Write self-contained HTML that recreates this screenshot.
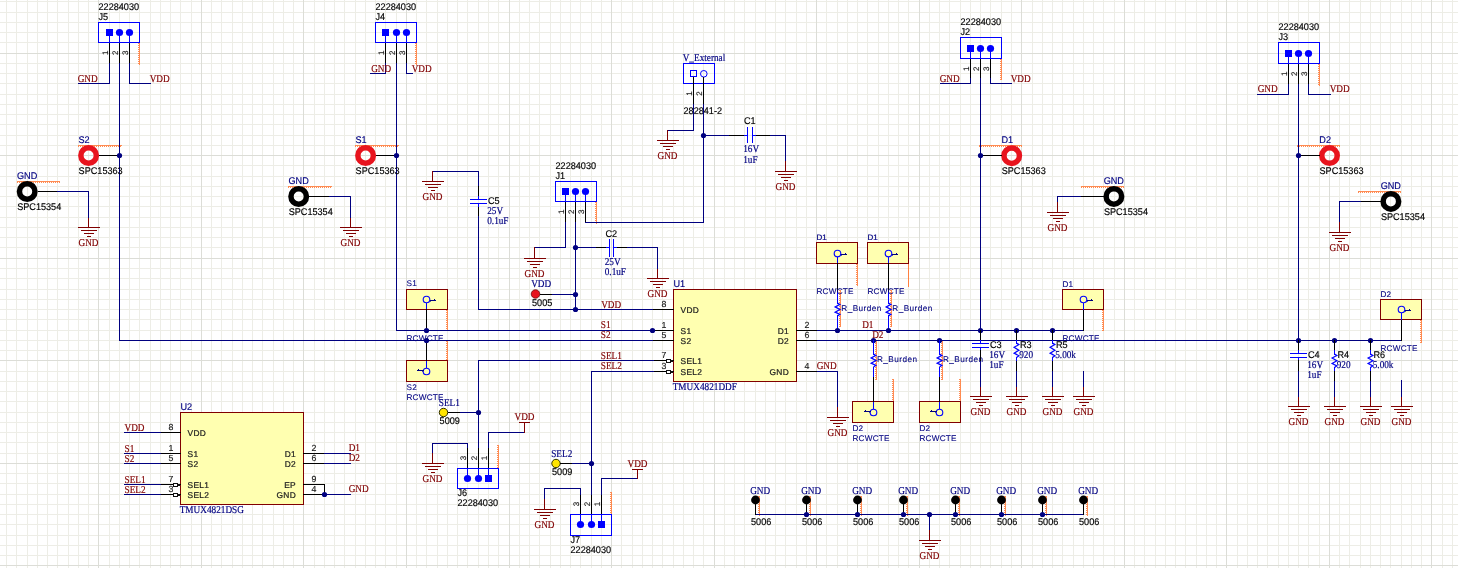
<!DOCTYPE html>
<html><head><meta charset="utf-8"><style>
html,body{margin:0;padding:0;background:#fff;overflow:hidden}
svg{display:block;will-change:transform}
text{stroke-width:0.22px;text-rendering:geometricPrecision}
.s9{font-family:"Liberation Sans",sans-serif;font-size:9.7px;stroke-width:0.16px}
.s8{font-family:"Liberation Sans",sans-serif;font-size:8px}
.p8{font-family:"Liberation Sans",sans-serif;font-size:8.4px;letter-spacing:0.3px}
.pn{font-family:"Liberation Sans",sans-serif;font-size:8.8px;stroke-width:0.15px}
.n7{font-family:"Liberation Sans",sans-serif;font-size:8px;stroke-width:0.15px}
.r9{font-family:"Liberation Serif",serif;font-size:10.5px;stroke-width:0.18px}
.rb{font-family:"Liberation Sans",sans-serif;font-size:8.2px;letter-spacing:0.2px;stroke-width:0.1px}
.rr{font-family:"Liberation Sans",sans-serif;font-size:8.2px;letter-spacing:0.45px;stroke-width:0.1px}
line,polyline,rect{shape-rendering:crispEdges}
</style></head><body>
<svg width="1458" height="568" viewBox="0 0 1458 568">
<rect x="0" y="0" width="1458" height="568" fill="#ffffff"/>
<line x1="6.5" y1="0" x2="6.5" y2="568" stroke="#ededE6"/>
<line x1="16.5" y1="0" x2="16.5" y2="568" stroke="#ededE6"/>
<line x1="27.5" y1="0" x2="27.5" y2="568" stroke="#ededE6"/>
<line x1="37.5" y1="0" x2="37.5" y2="568" stroke="#ededE6"/>
<line x1="47.5" y1="0" x2="47.5" y2="568" stroke="#ededE6"/>
<line x1="57.5" y1="0" x2="57.5" y2="568" stroke="#ededE6"/>
<line x1="68.5" y1="0" x2="68.5" y2="568" stroke="#ededE6"/>
<line x1="78.5" y1="0" x2="78.5" y2="568" stroke="#ededE6"/>
<line x1="88.5" y1="0" x2="88.5" y2="568" stroke="#ededE6"/>
<line x1="109.5" y1="0" x2="109.5" y2="568" stroke="#ededE6"/>
<line x1="119.5" y1="0" x2="119.5" y2="568" stroke="#ededE6"/>
<line x1="129.5" y1="0" x2="129.5" y2="568" stroke="#ededE6"/>
<line x1="139.5" y1="0" x2="139.5" y2="568" stroke="#ededE6"/>
<line x1="150.5" y1="0" x2="150.5" y2="568" stroke="#ededE6"/>
<line x1="160.5" y1="0" x2="160.5" y2="568" stroke="#ededE6"/>
<line x1="170.5" y1="0" x2="170.5" y2="568" stroke="#ededE6"/>
<line x1="180.5" y1="0" x2="180.5" y2="568" stroke="#ededE6"/>
<line x1="191.5" y1="0" x2="191.5" y2="568" stroke="#ededE6"/>
<line x1="211.5" y1="0" x2="211.5" y2="568" stroke="#ededE6"/>
<line x1="221.5" y1="0" x2="221.5" y2="568" stroke="#ededE6"/>
<line x1="232.5" y1="0" x2="232.5" y2="568" stroke="#ededE6"/>
<line x1="242.5" y1="0" x2="242.5" y2="568" stroke="#ededE6"/>
<line x1="252.5" y1="0" x2="252.5" y2="568" stroke="#ededE6"/>
<line x1="262.5" y1="0" x2="262.5" y2="568" stroke="#ededE6"/>
<line x1="273.5" y1="0" x2="273.5" y2="568" stroke="#ededE6"/>
<line x1="283.5" y1="0" x2="283.5" y2="568" stroke="#ededE6"/>
<line x1="293.5" y1="0" x2="293.5" y2="568" stroke="#ededE6"/>
<line x1="314.5" y1="0" x2="314.5" y2="568" stroke="#ededE6"/>
<line x1="324.5" y1="0" x2="324.5" y2="568" stroke="#ededE6"/>
<line x1="334.5" y1="0" x2="334.5" y2="568" stroke="#ededE6"/>
<line x1="344.5" y1="0" x2="344.5" y2="568" stroke="#ededE6"/>
<line x1="355.5" y1="0" x2="355.5" y2="568" stroke="#ededE6"/>
<line x1="365.5" y1="0" x2="365.5" y2="568" stroke="#ededE6"/>
<line x1="375.5" y1="0" x2="375.5" y2="568" stroke="#ededE6"/>
<line x1="385.5" y1="0" x2="385.5" y2="568" stroke="#ededE6"/>
<line x1="396.5" y1="0" x2="396.5" y2="568" stroke="#ededE6"/>
<line x1="416.5" y1="0" x2="416.5" y2="568" stroke="#ededE6"/>
<line x1="426.5" y1="0" x2="426.5" y2="568" stroke="#ededE6"/>
<line x1="437.5" y1="0" x2="437.5" y2="568" stroke="#ededE6"/>
<line x1="447.5" y1="0" x2="447.5" y2="568" stroke="#ededE6"/>
<line x1="457.5" y1="0" x2="457.5" y2="568" stroke="#ededE6"/>
<line x1="467.5" y1="0" x2="467.5" y2="568" stroke="#ededE6"/>
<line x1="478.5" y1="0" x2="478.5" y2="568" stroke="#ededE6"/>
<line x1="488.5" y1="0" x2="488.5" y2="568" stroke="#ededE6"/>
<line x1="498.5" y1="0" x2="498.5" y2="568" stroke="#ededE6"/>
<line x1="519.5" y1="0" x2="519.5" y2="568" stroke="#ededE6"/>
<line x1="529.5" y1="0" x2="529.5" y2="568" stroke="#ededE6"/>
<line x1="539.5" y1="0" x2="539.5" y2="568" stroke="#ededE6"/>
<line x1="550.5" y1="0" x2="550.5" y2="568" stroke="#ededE6"/>
<line x1="560.5" y1="0" x2="560.5" y2="568" stroke="#ededE6"/>
<line x1="570.5" y1="0" x2="570.5" y2="568" stroke="#ededE6"/>
<line x1="580.5" y1="0" x2="580.5" y2="568" stroke="#ededE6"/>
<line x1="591.5" y1="0" x2="591.5" y2="568" stroke="#ededE6"/>
<line x1="601.5" y1="0" x2="601.5" y2="568" stroke="#ededE6"/>
<line x1="621.5" y1="0" x2="621.5" y2="568" stroke="#ededE6"/>
<line x1="632.5" y1="0" x2="632.5" y2="568" stroke="#ededE6"/>
<line x1="642.5" y1="0" x2="642.5" y2="568" stroke="#ededE6"/>
<line x1="652.5" y1="0" x2="652.5" y2="568" stroke="#ededE6"/>
<line x1="662.5" y1="0" x2="662.5" y2="568" stroke="#ededE6"/>
<line x1="673.5" y1="0" x2="673.5" y2="568" stroke="#ededE6"/>
<line x1="683.5" y1="0" x2="683.5" y2="568" stroke="#ededE6"/>
<line x1="693.5" y1="0" x2="693.5" y2="568" stroke="#ededE6"/>
<line x1="703.5" y1="0" x2="703.5" y2="568" stroke="#ededE6"/>
<line x1="724.5" y1="0" x2="724.5" y2="568" stroke="#ededE6"/>
<line x1="734.5" y1="0" x2="734.5" y2="568" stroke="#ededE6"/>
<line x1="744.5" y1="0" x2="744.5" y2="568" stroke="#ededE6"/>
<line x1="755.5" y1="0" x2="755.5" y2="568" stroke="#ededE6"/>
<line x1="765.5" y1="0" x2="765.5" y2="568" stroke="#ededE6"/>
<line x1="775.5" y1="0" x2="775.5" y2="568" stroke="#ededE6"/>
<line x1="785.5" y1="0" x2="785.5" y2="568" stroke="#ededE6"/>
<line x1="796.5" y1="0" x2="796.5" y2="568" stroke="#ededE6"/>
<line x1="806.5" y1="0" x2="806.5" y2="568" stroke="#ededE6"/>
<line x1="826.5" y1="0" x2="826.5" y2="568" stroke="#ededE6"/>
<line x1="837.5" y1="0" x2="837.5" y2="568" stroke="#ededE6"/>
<line x1="847.5" y1="0" x2="847.5" y2="568" stroke="#ededE6"/>
<line x1="857.5" y1="0" x2="857.5" y2="568" stroke="#ededE6"/>
<line x1="867.5" y1="0" x2="867.5" y2="568" stroke="#ededE6"/>
<line x1="878.5" y1="0" x2="878.5" y2="568" stroke="#ededE6"/>
<line x1="888.5" y1="0" x2="888.5" y2="568" stroke="#ededE6"/>
<line x1="898.5" y1="0" x2="898.5" y2="568" stroke="#ededE6"/>
<line x1="908.5" y1="0" x2="908.5" y2="568" stroke="#ededE6"/>
<line x1="929.5" y1="0" x2="929.5" y2="568" stroke="#ededE6"/>
<line x1="939.5" y1="0" x2="939.5" y2="568" stroke="#ededE6"/>
<line x1="949.5" y1="0" x2="949.5" y2="568" stroke="#ededE6"/>
<line x1="960.5" y1="0" x2="960.5" y2="568" stroke="#ededE6"/>
<line x1="970.5" y1="0" x2="970.5" y2="568" stroke="#ededE6"/>
<line x1="980.5" y1="0" x2="980.5" y2="568" stroke="#ededE6"/>
<line x1="990.5" y1="0" x2="990.5" y2="568" stroke="#ededE6"/>
<line x1="1001.5" y1="0" x2="1001.5" y2="568" stroke="#ededE6"/>
<line x1="1011.5" y1="0" x2="1011.5" y2="568" stroke="#ededE6"/>
<line x1="1032.5" y1="0" x2="1032.5" y2="568" stroke="#ededE6"/>
<line x1="1042.5" y1="0" x2="1042.5" y2="568" stroke="#ededE6"/>
<line x1="1052.5" y1="0" x2="1052.5" y2="568" stroke="#ededE6"/>
<line x1="1062.5" y1="0" x2="1062.5" y2="568" stroke="#ededE6"/>
<line x1="1073.5" y1="0" x2="1073.5" y2="568" stroke="#ededE6"/>
<line x1="1083.5" y1="0" x2="1083.5" y2="568" stroke="#ededE6"/>
<line x1="1093.5" y1="0" x2="1093.5" y2="568" stroke="#ededE6"/>
<line x1="1103.5" y1="0" x2="1103.5" y2="568" stroke="#ededE6"/>
<line x1="1114.5" y1="0" x2="1114.5" y2="568" stroke="#ededE6"/>
<line x1="1134.5" y1="0" x2="1134.5" y2="568" stroke="#ededE6"/>
<line x1="1144.5" y1="0" x2="1144.5" y2="568" stroke="#ededE6"/>
<line x1="1155.5" y1="0" x2="1155.5" y2="568" stroke="#ededE6"/>
<line x1="1165.5" y1="0" x2="1165.5" y2="568" stroke="#ededE6"/>
<line x1="1175.5" y1="0" x2="1175.5" y2="568" stroke="#ededE6"/>
<line x1="1185.5" y1="0" x2="1185.5" y2="568" stroke="#ededE6"/>
<line x1="1196.5" y1="0" x2="1196.5" y2="568" stroke="#ededE6"/>
<line x1="1206.5" y1="0" x2="1206.5" y2="568" stroke="#ededE6"/>
<line x1="1216.5" y1="0" x2="1216.5" y2="568" stroke="#ededE6"/>
<line x1="1237.5" y1="0" x2="1237.5" y2="568" stroke="#ededE6"/>
<line x1="1247.5" y1="0" x2="1247.5" y2="568" stroke="#ededE6"/>
<line x1="1257.5" y1="0" x2="1257.5" y2="568" stroke="#ededE6"/>
<line x1="1267.5" y1="0" x2="1267.5" y2="568" stroke="#ededE6"/>
<line x1="1278.5" y1="0" x2="1278.5" y2="568" stroke="#ededE6"/>
<line x1="1288.5" y1="0" x2="1288.5" y2="568" stroke="#ededE6"/>
<line x1="1298.5" y1="0" x2="1298.5" y2="568" stroke="#ededE6"/>
<line x1="1308.5" y1="0" x2="1308.5" y2="568" stroke="#ededE6"/>
<line x1="1319.5" y1="0" x2="1319.5" y2="568" stroke="#ededE6"/>
<line x1="1339.5" y1="0" x2="1339.5" y2="568" stroke="#ededE6"/>
<line x1="1349.5" y1="0" x2="1349.5" y2="568" stroke="#ededE6"/>
<line x1="1360.5" y1="0" x2="1360.5" y2="568" stroke="#ededE6"/>
<line x1="1370.5" y1="0" x2="1370.5" y2="568" stroke="#ededE6"/>
<line x1="1380.5" y1="0" x2="1380.5" y2="568" stroke="#ededE6"/>
<line x1="1390.5" y1="0" x2="1390.5" y2="568" stroke="#ededE6"/>
<line x1="1401.5" y1="0" x2="1401.5" y2="568" stroke="#ededE6"/>
<line x1="1411.5" y1="0" x2="1411.5" y2="568" stroke="#ededE6"/>
<line x1="1421.5" y1="0" x2="1421.5" y2="568" stroke="#ededE6"/>
<line x1="1442.5" y1="0" x2="1442.5" y2="568" stroke="#ededE6"/>
<line x1="1452.5" y1="0" x2="1452.5" y2="568" stroke="#ededE6"/>
<line x1="0" y1="1.5" x2="1458" y2="1.5" stroke="#ededE6"/>
<line x1="0" y1="12.5" x2="1458" y2="12.5" stroke="#ededE6"/>
<line x1="0" y1="22.5" x2="1458" y2="22.5" stroke="#ededE6"/>
<line x1="0" y1="32.5" x2="1458" y2="32.5" stroke="#ededE6"/>
<line x1="0" y1="42.5" x2="1458" y2="42.5" stroke="#ededE6"/>
<line x1="0" y1="63.5" x2="1458" y2="63.5" stroke="#ededE6"/>
<line x1="0" y1="73.5" x2="1458" y2="73.5" stroke="#ededE6"/>
<line x1="0" y1="83.5" x2="1458" y2="83.5" stroke="#ededE6"/>
<line x1="0" y1="94.5" x2="1458" y2="94.5" stroke="#ededE6"/>
<line x1="0" y1="104.5" x2="1458" y2="104.5" stroke="#ededE6"/>
<line x1="0" y1="114.5" x2="1458" y2="114.5" stroke="#ededE6"/>
<line x1="0" y1="124.5" x2="1458" y2="124.5" stroke="#ededE6"/>
<line x1="0" y1="135.5" x2="1458" y2="135.5" stroke="#ededE6"/>
<line x1="0" y1="145.5" x2="1458" y2="145.5" stroke="#ededE6"/>
<line x1="0" y1="165.5" x2="1458" y2="165.5" stroke="#ededE6"/>
<line x1="0" y1="176.5" x2="1458" y2="176.5" stroke="#ededE6"/>
<line x1="0" y1="186.5" x2="1458" y2="186.5" stroke="#ededE6"/>
<line x1="0" y1="196.5" x2="1458" y2="196.5" stroke="#ededE6"/>
<line x1="0" y1="206.5" x2="1458" y2="206.5" stroke="#ededE6"/>
<line x1="0" y1="217.5" x2="1458" y2="217.5" stroke="#ededE6"/>
<line x1="0" y1="227.5" x2="1458" y2="227.5" stroke="#ededE6"/>
<line x1="0" y1="237.5" x2="1458" y2="237.5" stroke="#ededE6"/>
<line x1="0" y1="247.5" x2="1458" y2="247.5" stroke="#ededE6"/>
<line x1="0" y1="268.5" x2="1458" y2="268.5" stroke="#ededE6"/>
<line x1="0" y1="278.5" x2="1458" y2="278.5" stroke="#ededE6"/>
<line x1="0" y1="289.5" x2="1458" y2="289.5" stroke="#ededE6"/>
<line x1="0" y1="299.5" x2="1458" y2="299.5" stroke="#ededE6"/>
<line x1="0" y1="309.5" x2="1458" y2="309.5" stroke="#ededE6"/>
<line x1="0" y1="319.5" x2="1458" y2="319.5" stroke="#ededE6"/>
<line x1="0" y1="330.5" x2="1458" y2="330.5" stroke="#ededE6"/>
<line x1="0" y1="340.5" x2="1458" y2="340.5" stroke="#ededE6"/>
<line x1="0" y1="350.5" x2="1458" y2="350.5" stroke="#ededE6"/>
<line x1="0" y1="371.5" x2="1458" y2="371.5" stroke="#ededE6"/>
<line x1="0" y1="381.5" x2="1458" y2="381.5" stroke="#ededE6"/>
<line x1="0" y1="391.5" x2="1458" y2="391.5" stroke="#ededE6"/>
<line x1="0" y1="401.5" x2="1458" y2="401.5" stroke="#ededE6"/>
<line x1="0" y1="412.5" x2="1458" y2="412.5" stroke="#ededE6"/>
<line x1="0" y1="422.5" x2="1458" y2="422.5" stroke="#ededE6"/>
<line x1="0" y1="432.5" x2="1458" y2="432.5" stroke="#ededE6"/>
<line x1="0" y1="442.5" x2="1458" y2="442.5" stroke="#ededE6"/>
<line x1="0" y1="453.5" x2="1458" y2="453.5" stroke="#ededE6"/>
<line x1="0" y1="473.5" x2="1458" y2="473.5" stroke="#ededE6"/>
<line x1="0" y1="483.5" x2="1458" y2="483.5" stroke="#ededE6"/>
<line x1="0" y1="494.5" x2="1458" y2="494.5" stroke="#ededE6"/>
<line x1="0" y1="504.5" x2="1458" y2="504.5" stroke="#ededE6"/>
<line x1="0" y1="514.5" x2="1458" y2="514.5" stroke="#ededE6"/>
<line x1="0" y1="524.5" x2="1458" y2="524.5" stroke="#ededE6"/>
<line x1="0" y1="535.5" x2="1458" y2="535.5" stroke="#ededE6"/>
<line x1="0" y1="545.5" x2="1458" y2="545.5" stroke="#ededE6"/>
<line x1="0" y1="555.5" x2="1458" y2="555.5" stroke="#ededE6"/>
<line x1="98.5" y1="0" x2="98.5" y2="568" stroke="#dcddd7"/>
<line x1="201.5" y1="0" x2="201.5" y2="568" stroke="#dcddd7"/>
<line x1="303.5" y1="0" x2="303.5" y2="568" stroke="#dcddd7"/>
<line x1="406.5" y1="0" x2="406.5" y2="568" stroke="#dcddd7"/>
<line x1="509.5" y1="0" x2="509.5" y2="568" stroke="#dcddd7"/>
<line x1="611.5" y1="0" x2="611.5" y2="568" stroke="#dcddd7"/>
<line x1="714.5" y1="0" x2="714.5" y2="568" stroke="#dcddd7"/>
<line x1="816.5" y1="0" x2="816.5" y2="568" stroke="#dcddd7"/>
<line x1="919.5" y1="0" x2="919.5" y2="568" stroke="#dcddd7"/>
<line x1="1021.5" y1="0" x2="1021.5" y2="568" stroke="#dcddd7"/>
<line x1="1124.5" y1="0" x2="1124.5" y2="568" stroke="#dcddd7"/>
<line x1="1226.5" y1="0" x2="1226.5" y2="568" stroke="#dcddd7"/>
<line x1="1329.5" y1="0" x2="1329.5" y2="568" stroke="#dcddd7"/>
<line x1="1431.5" y1="0" x2="1431.5" y2="568" stroke="#dcddd7"/>
<line x1="0" y1="53.5" x2="1458" y2="53.5" stroke="#dcddd7"/>
<line x1="0" y1="155.5" x2="1458" y2="155.5" stroke="#dcddd7"/>
<line x1="0" y1="258.5" x2="1458" y2="258.5" stroke="#dcddd7"/>
<line x1="0" y1="360.5" x2="1458" y2="360.5" stroke="#dcddd7"/>
<line x1="0" y1="463.5" x2="1458" y2="463.5" stroke="#dcddd7"/>
<line x1="0" y1="565.5" x2="1458" y2="565.5" stroke="#dcddd7"/>
<line x1="139.5" y1="43" x2="139.5" y2="64.5" stroke="#ff8040" stroke-width="1" stroke-opacity="0.9"/>
<line x1="138.5" y1="43" x2="138.5" y2="64.5" stroke="#ff8040" stroke-width="1" stroke-dasharray="1 1" stroke-opacity="0.9"/>
<line x1="416.5" y1="43" x2="416.5" y2="64.5" stroke="#ff8040" stroke-width="1" stroke-opacity="0.9"/>
<line x1="415.5" y1="43" x2="415.5" y2="64.5" stroke="#ff8040" stroke-width="1" stroke-dasharray="1 1" stroke-opacity="0.9"/>
<line x1="1001.5" y1="59" x2="1001.5" y2="79.5" stroke="#ff8040" stroke-width="1" stroke-opacity="0.9"/>
<line x1="1000.5" y1="59" x2="1000.5" y2="79.5" stroke="#ff8040" stroke-width="1" stroke-dasharray="1 1" stroke-opacity="0.9"/>
<line x1="1319.5" y1="64" x2="1319.5" y2="85.5" stroke="#ff8040" stroke-width="1" stroke-opacity="0.9"/>
<line x1="1318.5" y1="64" x2="1318.5" y2="85.5" stroke="#ff8040" stroke-width="1" stroke-dasharray="1 1" stroke-opacity="0.9"/>
<line x1="78.1" y1="145.5" x2="121.6" y2="145.5" stroke="#ff8040" stroke-width="1" stroke-opacity="0.9"/>
<line x1="78.1" y1="146.5" x2="121.6" y2="146.5" stroke="#ff8040" stroke-width="1" stroke-dasharray="1 1" stroke-opacity="0.9"/>
<line x1="355.1" y1="145.5" x2="398.6" y2="145.5" stroke="#ff8040" stroke-width="1" stroke-opacity="0.9"/>
<line x1="355.1" y1="146.5" x2="398.6" y2="146.5" stroke="#ff8040" stroke-width="1" stroke-dasharray="1 1" stroke-opacity="0.9"/>
<line x1="978.7" y1="145.5" x2="1022.2" y2="145.5" stroke="#ff8040" stroke-width="1" stroke-opacity="0.9"/>
<line x1="978.7" y1="146.5" x2="1022.2" y2="146.5" stroke="#ff8040" stroke-width="1" stroke-dasharray="1 1" stroke-opacity="0.9"/>
<line x1="1296.5" y1="145.5" x2="1340.0" y2="145.5" stroke="#ff8040" stroke-width="1" stroke-opacity="0.9"/>
<line x1="1296.5" y1="146.5" x2="1340.0" y2="146.5" stroke="#ff8040" stroke-width="1" stroke-dasharray="1 1" stroke-opacity="0.9"/>
<line x1="16.7" y1="181.5" x2="60.2" y2="181.5" stroke="#ff8040" stroke-width="1" stroke-opacity="0.9"/>
<line x1="16.7" y1="182.5" x2="60.2" y2="182.5" stroke="#ff8040" stroke-width="1" stroke-dasharray="1 1" stroke-opacity="0.9"/>
<line x1="288.2" y1="186.5" x2="331.7" y2="186.5" stroke="#ff8040" stroke-width="1" stroke-opacity="0.9"/>
<line x1="288.2" y1="187.5" x2="331.7" y2="187.5" stroke="#ff8040" stroke-width="1" stroke-dasharray="1 1" stroke-opacity="0.9"/>
<line x1="1080.9" y1="186.5" x2="1124.4" y2="186.5" stroke="#ff8040" stroke-width="1" stroke-opacity="0.9"/>
<line x1="1080.9" y1="187.5" x2="1124.4" y2="187.5" stroke="#ff8040" stroke-width="1" stroke-dasharray="1 1" stroke-opacity="0.9"/>
<line x1="1357.9" y1="191.5" x2="1401.4" y2="191.5" stroke="#ff8040" stroke-width="1" stroke-opacity="0.9"/>
<line x1="1357.9" y1="192.5" x2="1401.4" y2="192.5" stroke="#ff8040" stroke-width="1" stroke-dasharray="1 1" stroke-opacity="0.9"/>
<line x1="596.5" y1="202" x2="596.5" y2="223.5" stroke="#ff8040" stroke-width="1" stroke-opacity="0.9"/>
<line x1="595.5" y1="202" x2="595.5" y2="223.5" stroke="#ff8040" stroke-width="1" stroke-dasharray="1 1" stroke-opacity="0.9"/>
<line x1="857.5" y1="264" x2="857.5" y2="286" stroke="#ff8040" stroke-width="1" stroke-opacity="0.9"/>
<line x1="856.5" y1="264" x2="856.5" y2="286" stroke="#ff8040" stroke-width="1" stroke-dasharray="1 1" stroke-opacity="0.9"/>
<line x1="840.5" y1="290" x2="840.5" y2="327" stroke="#ff8040" stroke-width="1" stroke-opacity="0.9"/>
<line x1="839.5" y1="290" x2="839.5" y2="327" stroke="#ff8040" stroke-width="1" stroke-dasharray="1 1" stroke-opacity="0.9"/>
<line x1="891.5" y1="290" x2="891.5" y2="327" stroke="#ff8040" stroke-width="1" stroke-opacity="0.9"/>
<line x1="890.5" y1="290" x2="890.5" y2="327" stroke="#ff8040" stroke-width="1" stroke-dasharray="1 1" stroke-opacity="0.9"/>
<line x1="893.5" y1="379" x2="893.5" y2="401" stroke="#ff8040" stroke-width="1" stroke-opacity="0.9"/>
<line x1="892.5" y1="379" x2="892.5" y2="401" stroke="#ff8040" stroke-width="1" stroke-dasharray="1 1" stroke-opacity="0.9"/>
<line x1="876.5" y1="341" x2="876.5" y2="380" stroke="#ff8040" stroke-width="1" stroke-opacity="0.9"/>
<line x1="875.5" y1="341" x2="875.5" y2="380" stroke="#ff8040" stroke-width="1" stroke-dasharray="1 1" stroke-opacity="0.9"/>
<line x1="960.5" y1="379" x2="960.5" y2="401" stroke="#ff8040" stroke-width="1" stroke-opacity="0.9"/>
<line x1="959.5" y1="379" x2="959.5" y2="401" stroke="#ff8040" stroke-width="1" stroke-dasharray="1 1" stroke-opacity="0.9"/>
<line x1="942.5" y1="341" x2="942.5" y2="380" stroke="#ff8040" stroke-width="1" stroke-opacity="0.9"/>
<line x1="941.5" y1="341" x2="941.5" y2="380" stroke="#ff8040" stroke-width="1" stroke-dasharray="1 1" stroke-opacity="0.9"/>
<line x1="447.5" y1="310" x2="447.5" y2="331" stroke="#ff8040" stroke-width="1" stroke-opacity="0.9"/>
<line x1="446.5" y1="310" x2="446.5" y2="331" stroke="#ff8040" stroke-width="1" stroke-dasharray="1 1" stroke-opacity="0.9"/>
<line x1="447.5" y1="341" x2="447.5" y2="360" stroke="#ff8040" stroke-width="1" stroke-opacity="0.9"/>
<line x1="446.5" y1="341" x2="446.5" y2="360" stroke="#ff8040" stroke-width="1" stroke-dasharray="1 1" stroke-opacity="0.9"/>
<line x1="1103.5" y1="310" x2="1103.5" y2="331" stroke="#ff8040" stroke-width="1" stroke-opacity="0.9"/>
<line x1="1102.5" y1="310" x2="1102.5" y2="331" stroke="#ff8040" stroke-width="1" stroke-dasharray="1 1" stroke-opacity="0.9"/>
<line x1="1421.5" y1="320" x2="1421.5" y2="343" stroke="#ff8040" stroke-width="1" stroke-opacity="0.9"/>
<line x1="1420.5" y1="320" x2="1420.5" y2="343" stroke="#ff8040" stroke-width="1" stroke-dasharray="1 1" stroke-opacity="0.9"/>
<line x1="498.5" y1="445" x2="498.5" y2="468" stroke="#ff8040" stroke-width="1" stroke-opacity="0.9"/>
<line x1="497.5" y1="445" x2="497.5" y2="468" stroke="#ff8040" stroke-width="1" stroke-dasharray="1 1" stroke-opacity="0.9"/>
<line x1="611.5" y1="492" x2="611.5" y2="514" stroke="#ff8040" stroke-width="1" stroke-opacity="0.9"/>
<line x1="610.5" y1="492" x2="610.5" y2="514" stroke="#ff8040" stroke-width="1" stroke-dasharray="1 1" stroke-opacity="0.9"/>
<line x1="759.5" y1="496" x2="759.5" y2="516" stroke="#ff8040" stroke-width="1" stroke-opacity="0.9"/>
<line x1="758.5" y1="496" x2="758.5" y2="516" stroke="#ff8040" stroke-width="1" stroke-dasharray="1 1" stroke-opacity="0.9"/>
<line x1="810.5" y1="496" x2="810.5" y2="516" stroke="#ff8040" stroke-width="1" stroke-opacity="0.9"/>
<line x1="809.5" y1="496" x2="809.5" y2="516" stroke="#ff8040" stroke-width="1" stroke-dasharray="1 1" stroke-opacity="0.9"/>
<line x1="861.5" y1="496" x2="861.5" y2="516" stroke="#ff8040" stroke-width="1" stroke-opacity="0.9"/>
<line x1="860.5" y1="496" x2="860.5" y2="516" stroke="#ff8040" stroke-width="1" stroke-dasharray="1 1" stroke-opacity="0.9"/>
<line x1="907.5" y1="496" x2="907.5" y2="516" stroke="#ff8040" stroke-width="1" stroke-opacity="0.9"/>
<line x1="906.5" y1="496" x2="906.5" y2="516" stroke="#ff8040" stroke-width="1" stroke-dasharray="1 1" stroke-opacity="0.9"/>
<line x1="959.5" y1="496" x2="959.5" y2="516" stroke="#ff8040" stroke-width="1" stroke-opacity="0.9"/>
<line x1="958.5" y1="496" x2="958.5" y2="516" stroke="#ff8040" stroke-width="1" stroke-dasharray="1 1" stroke-opacity="0.9"/>
<line x1="1005.5" y1="496" x2="1005.5" y2="516" stroke="#ff8040" stroke-width="1" stroke-opacity="0.9"/>
<line x1="1004.5" y1="496" x2="1004.5" y2="516" stroke="#ff8040" stroke-width="1" stroke-dasharray="1 1" stroke-opacity="0.9"/>
<line x1="1046.5" y1="496" x2="1046.5" y2="516" stroke="#ff8040" stroke-width="1" stroke-opacity="0.9"/>
<line x1="1045.5" y1="496" x2="1045.5" y2="516" stroke="#ff8040" stroke-width="1" stroke-dasharray="1 1" stroke-opacity="0.9"/>
<line x1="1087.5" y1="496" x2="1087.5" y2="516" stroke="#ff8040" stroke-width="1" stroke-opacity="0.9"/>
<line x1="1086.5" y1="496" x2="1086.5" y2="516" stroke="#ff8040" stroke-width="1" stroke-dasharray="1 1" stroke-opacity="0.9"/>
<rect x="109" y="42" width="1" height="22" fill="#000000"/>
<text x="0" y="0" class="n7" fill="#202020" stroke="#202020" text-anchor="middle" transform="translate(107.6,52.8) rotate(-90)">1</text>
<rect x="119" y="42" width="1" height="22" fill="#000000"/>
<text x="0" y="0" class="n7" fill="#202020" stroke="#202020" text-anchor="middle" transform="translate(117.6,52.8) rotate(-90)">2</text>
<rect x="129" y="42" width="1" height="22" fill="#000000"/>
<text x="0" y="0" class="n7" fill="#202020" stroke="#202020" text-anchor="middle" transform="translate(127.6,52.8) rotate(-90)">3</text>
<rect x="98.5" y="22.5" width="41" height="20" fill="none" stroke="#0000ff" stroke-width="1"/>
<rect x="109" y="32" width="1" height="11" fill="#0000ff"/>
<rect x="119" y="32" width="1" height="11" fill="#0000ff"/>
<rect x="129" y="32" width="1" height="11" fill="#0000ff"/>
<rect x="106" y="29" width="7" height="7" fill="#0000ff"/>
<circle cx="119.5" cy="32.5" r="3.6" fill="#0000ff"/>
<circle cx="129.5" cy="32.5" r="3.6" fill="#0000ff"/>
<text x="0" y="0" transform="translate(98.5,19.5) scale(0.94,1)" class="s9" fill="#000000" stroke="#000000">J5</text>
<text x="0" y="0" transform="translate(98.5,10) scale(0.94,1)" class="s9" fill="#000000" stroke="#000000">22284030</text>
<rect x="109" y="63" width="1" height="21" fill="#000080"/>
<rect x="78" y="83" width="32" height="1" fill="#000080"/>
<text x="0" y="0" transform="translate(77.7,81.5) scale(0.88,1)" class="r9" fill="#800000" stroke="#800000">GND</text>
<rect x="129" y="63" width="1" height="21" fill="#000080"/>
<rect x="129" y="83" width="22" height="1" fill="#000080"/>
<text x="0" y="0" transform="translate(149.7,81.5) scale(0.88,1)" class="r9" fill="#800000" stroke="#800000">VDD</text>
<rect x="119" y="63" width="1" height="278" fill="#000080"/>
<rect x="119" y="340" width="535" height="1" fill="#000080"/>
<rect x="385" y="42" width="1" height="22" fill="#000000"/>
<text x="0" y="0" class="n7" fill="#202020" stroke="#202020" text-anchor="middle" transform="translate(383.6,52.8) rotate(-90)">1</text>
<rect x="396" y="42" width="1" height="22" fill="#000000"/>
<text x="0" y="0" class="n7" fill="#202020" stroke="#202020" text-anchor="middle" transform="translate(394.6,52.8) rotate(-90)">2</text>
<rect x="406" y="42" width="1" height="22" fill="#000000"/>
<text x="0" y="0" class="n7" fill="#202020" stroke="#202020" text-anchor="middle" transform="translate(404.6,52.8) rotate(-90)">3</text>
<rect x="375.5" y="22.5" width="41" height="20" fill="none" stroke="#0000ff" stroke-width="1"/>
<rect x="385" y="32" width="1" height="11" fill="#0000ff"/>
<rect x="396" y="32" width="1" height="11" fill="#0000ff"/>
<rect x="406" y="32" width="1" height="11" fill="#0000ff"/>
<rect x="382" y="29" width="7" height="7" fill="#0000ff"/>
<circle cx="396.5" cy="32.5" r="3.6" fill="#0000ff"/>
<circle cx="406.5" cy="32.5" r="3.6" fill="#0000ff"/>
<text x="0" y="0" transform="translate(375.5,19.5) scale(0.94,1)" class="s9" fill="#000000" stroke="#000000">J4</text>
<text x="0" y="0" transform="translate(375.5,10) scale(0.94,1)" class="s9" fill="#000000" stroke="#000000">22284030</text>
<rect x="385" y="63" width="1" height="11" fill="#000080"/>
<rect x="370" y="73" width="16" height="1" fill="#000080"/>
<text x="0" y="0" transform="translate(371.2,71.5) scale(0.88,1)" class="r9" fill="#800000" stroke="#800000">GND</text>
<rect x="406" y="63" width="1" height="11" fill="#000080"/>
<rect x="406" y="73" width="7" height="1" fill="#000080"/>
<text x="0" y="0" transform="translate(411.7,71.5) scale(0.88,1)" class="r9" fill="#800000" stroke="#800000">VDD</text>
<rect x="396" y="63" width="1" height="268" fill="#000080"/>
<rect x="396" y="330" width="258" height="1" fill="#000080"/>
<rect x="970" y="58" width="1" height="21" fill="#000000"/>
<text x="0" y="0" class="n7" fill="#202020" stroke="#202020" text-anchor="middle" transform="translate(968.6,68.8) rotate(-90)">1</text>
<rect x="980" y="58" width="1" height="21" fill="#000000"/>
<text x="0" y="0" class="n7" fill="#202020" stroke="#202020" text-anchor="middle" transform="translate(978.6,68.8) rotate(-90)">2</text>
<rect x="990" y="58" width="1" height="21" fill="#000000"/>
<text x="0" y="0" class="n7" fill="#202020" stroke="#202020" text-anchor="middle" transform="translate(988.6,68.8) rotate(-90)">3</text>
<rect x="960.5" y="37.5" width="41" height="21" fill="none" stroke="#0000ff" stroke-width="1"/>
<rect x="970" y="48" width="1" height="11" fill="#0000ff"/>
<rect x="980" y="48" width="1" height="11" fill="#0000ff"/>
<rect x="990" y="48" width="1" height="11" fill="#0000ff"/>
<rect x="967" y="45" width="7" height="7" fill="#0000ff"/>
<circle cx="980.5" cy="48.5" r="3.6" fill="#0000ff"/>
<circle cx="990.5" cy="48.5" r="3.6" fill="#0000ff"/>
<text x="0" y="0" transform="translate(960.5,34.5) scale(0.94,1)" class="s9" fill="#000000" stroke="#000000">J2</text>
<text x="0" y="0" transform="translate(960.5,25) scale(0.94,1)" class="s9" fill="#000000" stroke="#000000">22284030</text>
<rect x="970" y="78" width="1" height="6" fill="#000080"/>
<rect x="940" y="83" width="31" height="1" fill="#000080"/>
<text x="0" y="0" transform="translate(939.7,81.5) scale(0.88,1)" class="r9" fill="#800000" stroke="#800000">GND</text>
<rect x="990" y="78" width="1" height="6" fill="#000080"/>
<rect x="990" y="83" width="22" height="1" fill="#000080"/>
<text x="0" y="0" transform="translate(1010.7,81.5) scale(0.88,1)" class="r9" fill="#800000" stroke="#800000">VDD</text>
<rect x="980" y="78" width="1" height="253" fill="#000080"/>
<rect x="1288" y="63" width="1" height="22" fill="#000000"/>
<text x="0" y="0" class="n7" fill="#202020" stroke="#202020" text-anchor="middle" transform="translate(1286.6,73.8) rotate(-90)">1</text>
<rect x="1298" y="63" width="1" height="22" fill="#000000"/>
<text x="0" y="0" class="n7" fill="#202020" stroke="#202020" text-anchor="middle" transform="translate(1296.6,73.8) rotate(-90)">2</text>
<rect x="1308" y="63" width="1" height="22" fill="#000000"/>
<text x="0" y="0" class="n7" fill="#202020" stroke="#202020" text-anchor="middle" transform="translate(1306.6,73.8) rotate(-90)">3</text>
<rect x="1278.5" y="42.5" width="41" height="21" fill="none" stroke="#0000ff" stroke-width="1"/>
<rect x="1288" y="53" width="1" height="11" fill="#0000ff"/>
<rect x="1298" y="53" width="1" height="11" fill="#0000ff"/>
<rect x="1308" y="53" width="1" height="11" fill="#0000ff"/>
<rect x="1285" y="50" width="7" height="7" fill="#0000ff"/>
<circle cx="1298.5" cy="53.5" r="3.6" fill="#0000ff"/>
<circle cx="1308.5" cy="53.5" r="3.6" fill="#0000ff"/>
<text x="0" y="0" transform="translate(1278.5,39.5) scale(0.94,1)" class="s9" fill="#000000" stroke="#000000">J3</text>
<text x="0" y="0" transform="translate(1278.5,30) scale(0.94,1)" class="s9" fill="#000000" stroke="#000000">22284030</text>
<rect x="1288" y="84" width="1" height="11" fill="#000080"/>
<rect x="1257" y="94" width="32" height="1" fill="#000080"/>
<text x="0" y="0" transform="translate(1257.7,92) scale(0.88,1)" class="r9" fill="#800000" stroke="#800000">GND</text>
<rect x="1308" y="84" width="1" height="11" fill="#000080"/>
<rect x="1308" y="94" width="23" height="1" fill="#000080"/>
<text x="0" y="0" transform="translate(1329.7,92) scale(0.88,1)" class="r9" fill="#800000" stroke="#800000">VDD</text>
<rect x="1298" y="84" width="1" height="257" fill="#000080"/>
<circle cx="88.6" cy="155.5" r="7.75" fill="none" stroke="#e8141e" stroke-width="5.5"/>
<text x="0" y="0" transform="translate(78.39999999999999,143.1) scale(0.94,1)" class="s9" fill="#000080" stroke="#000080">S2</text>
<text x="0" y="0" transform="translate(78.6,174.1) scale(0.94,1)" class="s9" fill="#000000" stroke="#000000">SPC15363</text>
<rect x="99" y="155" width="21" height="1" fill="#000000"/>
<circle cx="119.5" cy="155.5" r="2.6" fill="#000080"/>
<circle cx="365.6" cy="155.5" r="7.75" fill="none" stroke="#e8141e" stroke-width="5.5"/>
<text x="0" y="0" transform="translate(355.40000000000003,143.1) scale(0.94,1)" class="s9" fill="#000080" stroke="#000080">S1</text>
<text x="0" y="0" transform="translate(355.6,174.1) scale(0.94,1)" class="s9" fill="#000000" stroke="#000000">SPC15363</text>
<rect x="376" y="155" width="21" height="1" fill="#000000"/>
<circle cx="396.5" cy="155.5" r="2.6" fill="#000080"/>
<circle cx="1011.7" cy="155.7" r="7.75" fill="none" stroke="#e8141e" stroke-width="5.5"/>
<text x="0" y="0" transform="translate(1001.5,143.29999999999998) scale(0.94,1)" class="s9" fill="#000080" stroke="#000080">D1</text>
<text x="0" y="0" transform="translate(1001.7,174.29999999999998) scale(0.94,1)" class="s9" fill="#000000" stroke="#000000">SPC15363</text>
<rect x="980" y="155" width="22" height="1" fill="#000000"/>
<circle cx="980.5" cy="155.5" r="2.6" fill="#000080"/>
<circle cx="1329.5" cy="155.6" r="7.75" fill="none" stroke="#e8141e" stroke-width="5.5"/>
<text x="0" y="0" transform="translate(1319.3,143.2) scale(0.94,1)" class="s9" fill="#000080" stroke="#000080">D2</text>
<text x="0" y="0" transform="translate(1319.5,174.2) scale(0.94,1)" class="s9" fill="#000000" stroke="#000000">SPC15363</text>
<rect x="1298" y="155" width="22" height="1" fill="#000000"/>
<circle cx="1298.5" cy="155.5" r="2.6" fill="#000080"/>
<circle cx="27.2" cy="191.5" r="7.75" fill="none" stroke="#000000" stroke-width="5.5"/>
<text x="0" y="0" transform="translate(17.0,179.1) scale(0.94,1)" class="s9" fill="#000080" stroke="#000080">GND</text>
<text x="0" y="0" transform="translate(17.2,210.1) scale(0.94,1)" class="s9" fill="#000000" stroke="#000000">SPC15354</text>
<rect x="38" y="191" width="20" height="1" fill="#000000"/>
<rect x="57" y="191" width="32" height="1" fill="#000080"/>
<rect x="88" y="191" width="1" height="28" fill="#000080"/>
<rect x="88" y="218" width="1" height="10" fill="#800000"/>
<rect x="78" y="227" width="22" height="1" fill="#800000"/>
<rect x="81" y="230" width="16" height="1" fill="#800000"/>
<rect x="84" y="233" width="10" height="1" fill="#800000"/>
<rect x="87" y="236" width="4" height="1" fill="#800000"/>
<text x="0" y="0" transform="translate(88.5,245.5) scale(0.88,1)" class="r9" fill="#800000" stroke="#800000" text-anchor="middle">GND</text>
<circle cx="298.7" cy="196.5" r="7.75" fill="none" stroke="#000000" stroke-width="5.5"/>
<text x="0" y="0" transform="translate(288.5,184.1) scale(0.94,1)" class="s9" fill="#000080" stroke="#000080">GND</text>
<text x="0" y="0" transform="translate(288.7,215.1) scale(0.94,1)" class="s9" fill="#000000" stroke="#000000">SPC15354</text>
<rect x="309" y="196" width="21" height="1" fill="#000000"/>
<rect x="329" y="196" width="22" height="1" fill="#000080"/>
<rect x="350" y="196" width="1" height="23" fill="#000080"/>
<rect x="350" y="218" width="1" height="10" fill="#800000"/>
<rect x="340" y="227" width="22" height="1" fill="#800000"/>
<rect x="343" y="230" width="16" height="1" fill="#800000"/>
<rect x="346" y="233" width="10" height="1" fill="#800000"/>
<rect x="349" y="236" width="4" height="1" fill="#800000"/>
<text x="0" y="0" transform="translate(350.5,245.5) scale(0.88,1)" class="r9" fill="#800000" stroke="#800000" text-anchor="middle">GND</text>
<circle cx="1113.9" cy="196.4" r="7.75" fill="none" stroke="#000000" stroke-width="5.5"/>
<text x="0" y="0" transform="translate(1103.7,184.0) scale(0.94,1)" class="s9" fill="#000080" stroke="#000080">GND</text>
<text x="0" y="0" transform="translate(1103.9,215.0) scale(0.94,1)" class="s9" fill="#000000" stroke="#000000">SPC15354</text>
<rect x="1080" y="196" width="24" height="1" fill="#000000"/>
<rect x="1057" y="196" width="24" height="1" fill="#000080"/>
<rect x="1057" y="196" width="1" height="7" fill="#000080"/>
<rect x="1057" y="202" width="1" height="11" fill="#800000"/>
<rect x="1047" y="212" width="22" height="1" fill="#800000"/>
<rect x="1050" y="215" width="16" height="1" fill="#800000"/>
<rect x="1053" y="218" width="10" height="1" fill="#800000"/>
<rect x="1056" y="221" width="4" height="1" fill="#800000"/>
<text x="0" y="0" transform="translate(1057.5,230.5) scale(0.88,1)" class="r9" fill="#800000" stroke="#800000" text-anchor="middle">GND</text>
<circle cx="1390.9" cy="201.4" r="7.75" fill="none" stroke="#000000" stroke-width="5.5"/>
<text x="0" y="0" transform="translate(1380.7,189.0) scale(0.94,1)" class="s9" fill="#000080" stroke="#000080">GND</text>
<text x="0" y="0" transform="translate(1380.9,220.0) scale(0.94,1)" class="s9" fill="#000000" stroke="#000000">SPC15354</text>
<rect x="1360" y="201" width="21" height="1" fill="#000000"/>
<rect x="1339" y="201" width="22" height="1" fill="#000080"/>
<rect x="1339" y="201" width="1" height="22" fill="#000080"/>
<rect x="1339" y="222" width="1" height="11" fill="#800000"/>
<rect x="1329" y="232" width="22" height="1" fill="#800000"/>
<rect x="1332" y="235" width="16" height="1" fill="#800000"/>
<rect x="1335" y="238" width="10" height="1" fill="#800000"/>
<rect x="1338" y="241" width="4" height="1" fill="#800000"/>
<text x="0" y="0" transform="translate(1339.5,250.5) scale(0.88,1)" class="r9" fill="#800000" stroke="#800000" text-anchor="middle">GND</text>
<rect x="683.5" y="63.5" width="31" height="20" fill="none" stroke="#0000ff" stroke-width="1"/>
<rect x="690.5" y="70.5" width="6" height="6" fill="none" stroke="#0000ff" stroke-width="1"/>
<circle cx="703.8" cy="73.8" r="3.3" fill="none" stroke="#0000ff" stroke-width="1"/>
<text x="0" y="0" transform="translate(682.7,61) scale(0.88,1)" class="r9" fill="#000080" stroke="#000080">V_External</text>
<text x="0" y="0" transform="translate(683.5,114.4) scale(0.94,1)" class="s9" fill="#000000" stroke="#000000">282841-2</text>
<rect x="693" y="77" width="1" height="28" fill="#000000"/>
<rect x="703" y="77" width="1" height="28" fill="#000000"/>
<rect x="693" y="104" width="1" height="27" fill="#000080"/>
<rect x="703" y="104" width="1" height="32" fill="#000080"/>
<text x="0" y="0" class="n7" fill="#202020" stroke="#202020" text-anchor="middle" transform="translate(691.7,93.5) rotate(-90)">1</text>
<text x="0" y="0" class="n7" fill="#202020" stroke="#202020" text-anchor="middle" transform="translate(701.7,93.5) rotate(-90)">2</text>
<rect x="667" y="130" width="27" height="1" fill="#000080"/>
<rect x="667" y="130" width="1" height="11" fill="#800000"/>
<rect x="657" y="140" width="22" height="1" fill="#800000"/>
<rect x="660" y="143" width="16" height="1" fill="#800000"/>
<rect x="663" y="146" width="10" height="1" fill="#800000"/>
<rect x="666" y="149" width="4" height="1" fill="#800000"/>
<text x="0" y="0" transform="translate(667.5,158.5) scale(0.88,1)" class="r9" fill="#800000" stroke="#800000" text-anchor="middle">GND</text>
<rect x="703" y="135" width="1" height="88" fill="#000080"/>
<rect x="585" y="222" width="119" height="1" fill="#000080"/>
<circle cx="703.5" cy="135.5" r="2.6" fill="#000080"/>
<rect x="703" y="135" width="27" height="1" fill="#000080"/>
<rect x="729" y="135" width="16" height="1" fill="#000000"/>
<rect x="755" y="135" width="16" height="1" fill="#000000"/>
<rect x="770" y="135" width="16" height="1" fill="#000080"/>
<rect x="785" y="135" width="1" height="27" fill="#000080"/>
<rect x="785" y="161" width="1" height="11" fill="#800000"/>
<rect x="775" y="171" width="22" height="1" fill="#800000"/>
<rect x="778" y="174" width="16" height="1" fill="#800000"/>
<rect x="781" y="177" width="10" height="1" fill="#800000"/>
<rect x="784" y="180" width="4" height="1" fill="#800000"/>
<text x="0" y="0" transform="translate(785.5,189.5) scale(0.88,1)" class="r9" fill="#800000" stroke="#800000" text-anchor="middle">GND</text>
<rect x="747" y="127" width="1" height="16" fill="#0000ff"/>
<rect x="752" y="127" width="1" height="16" fill="#0000ff"/>
<rect x="744" y="135" width="4" height="1" fill="#0000ff"/>
<rect x="752" y="135" width="4" height="1" fill="#0000ff"/>
<text x="0" y="0" transform="translate(744,124) scale(0.94,1)" class="s9" fill="#000000" stroke="#000000">C1</text>
<text x="0" y="0" transform="translate(743.2,152) scale(0.88,1)" class="r9" fill="#000080" stroke="#000080">16V</text>
<text x="0" y="0" transform="translate(743.2,162.5) scale(0.88,1)" class="r9" fill="#000080" stroke="#000080">1uF</text>
<rect x="565" y="201" width="1" height="22" fill="#000000"/>
<text x="0" y="0" class="n7" fill="#202020" stroke="#202020" text-anchor="middle" transform="translate(563.6,211.8) rotate(-90)">1</text>
<rect x="575" y="201" width="1" height="22" fill="#000000"/>
<text x="0" y="0" class="n7" fill="#202020" stroke="#202020" text-anchor="middle" transform="translate(573.6,211.8) rotate(-90)">2</text>
<rect x="585" y="201" width="1" height="22" fill="#000000"/>
<text x="0" y="0" class="n7" fill="#202020" stroke="#202020" text-anchor="middle" transform="translate(583.6,211.8) rotate(-90)">3</text>
<rect x="555.5" y="181.5" width="41" height="20" fill="none" stroke="#0000ff" stroke-width="1"/>
<rect x="565" y="191" width="1" height="11" fill="#0000ff"/>
<rect x="575" y="191" width="1" height="11" fill="#0000ff"/>
<rect x="585" y="191" width="1" height="11" fill="#0000ff"/>
<rect x="562" y="188" width="7" height="7" fill="#0000ff"/>
<circle cx="575.5" cy="191.5" r="3.6" fill="#0000ff"/>
<circle cx="585.5" cy="191.5" r="3.6" fill="#0000ff"/>
<text x="0" y="0" transform="translate(555.5,178.5) scale(0.94,1)" class="s9" fill="#000000" stroke="#000000">J1</text>
<text x="0" y="0" transform="translate(555.5,169) scale(0.94,1)" class="s9" fill="#000000" stroke="#000000">22284030</text>
<rect x="565" y="222" width="1" height="26" fill="#000080"/>
<rect x="534" y="247" width="32" height="1" fill="#000080"/>
<rect x="534" y="247" width="1" height="12" fill="#800000"/>
<rect x="524" y="258" width="22" height="1" fill="#800000"/>
<rect x="527" y="261" width="16" height="1" fill="#800000"/>
<rect x="530" y="264" width="10" height="1" fill="#800000"/>
<rect x="533" y="267" width="4" height="1" fill="#800000"/>
<text x="0" y="0" transform="translate(534.5,276.5) scale(0.88,1)" class="r9" fill="#800000" stroke="#800000" text-anchor="middle">GND</text>
<rect x="575" y="222" width="1" height="88" fill="#000080"/>
<rect x="585" y="222" width="1" height="1" fill="#000080"/>
<circle cx="575.5" cy="247.5" r="2.6" fill="#000080"/>
<circle cx="575.5" cy="294.5" r="2.6" fill="#000080"/>
<circle cx="575.5" cy="309.5" r="2.6" fill="#000080"/>
<rect x="575" y="247" width="22" height="1" fill="#000080"/>
<rect x="596" y="247" width="11" height="1" fill="#000000"/>
<rect x="617" y="247" width="11" height="1" fill="#000000"/>
<rect x="627" y="247" width="31" height="1" fill="#000080"/>
<rect x="657" y="247" width="1" height="23" fill="#000080"/>
<rect x="657" y="269" width="1" height="10" fill="#800000"/>
<rect x="647" y="278" width="22" height="1" fill="#800000"/>
<rect x="650" y="281" width="16" height="1" fill="#800000"/>
<rect x="653" y="284" width="10" height="1" fill="#800000"/>
<rect x="656" y="287" width="4" height="1" fill="#800000"/>
<text x="0" y="0" transform="translate(657.5,296.5) scale(0.88,1)" class="r9" fill="#800000" stroke="#800000" text-anchor="middle">GND</text>
<rect x="609" y="239" width="1" height="18" fill="#0000ff"/>
<rect x="613" y="239" width="1" height="18" fill="#0000ff"/>
<rect x="606" y="247" width="4" height="1" fill="#0000ff"/>
<rect x="613" y="247" width="4" height="1" fill="#0000ff"/>
<text x="0" y="0" transform="translate(605.5,236.7) scale(0.94,1)" class="s9" fill="#000000" stroke="#000000">C2</text>
<text x="0" y="0" transform="translate(604.7,264.7) scale(0.88,1)" class="r9" fill="#000080" stroke="#000080">25V</text>
<text x="0" y="0" transform="translate(604.7,275.2) scale(0.88,1)" class="r9" fill="#000080" stroke="#000080">0.1uF</text>
<circle cx="535.5" cy="294" r="4.3" fill="#e8141e" stroke="#5a0000" stroke-width="0.7"/>
<rect x="540" y="294" width="13" height="1" fill="#000000"/>
<rect x="552" y="294" width="24" height="1" fill="#000080"/>
<text x="0" y="0" transform="translate(531.2,287.2) scale(0.88,1)" class="r9" fill="#000080" stroke="#000080">VDD</text>
<text x="0" y="0" transform="translate(532,306.1) scale(0.94,1)" class="s9" fill="#000000" stroke="#000000">5005</text>
<rect x="432" y="171" width="47" height="1" fill="#000080"/>
<rect x="478" y="171" width="1" height="16" fill="#000080"/>
<rect x="432" y="171" width="1" height="11" fill="#800000"/>
<rect x="422" y="181" width="22" height="1" fill="#800000"/>
<rect x="425" y="184" width="16" height="1" fill="#800000"/>
<rect x="428" y="187" width="10" height="1" fill="#800000"/>
<rect x="431" y="190" width="4" height="1" fill="#800000"/>
<text x="0" y="0" transform="translate(432.5,199.5) scale(0.88,1)" class="r9" fill="#800000" stroke="#800000" text-anchor="middle">GND</text>
<rect x="478" y="186" width="1" height="11" fill="#000000"/>
<rect x="478" y="207" width="1" height="10" fill="#000000"/>
<rect x="470" y="199" width="17" height="1" fill="#0000ff"/>
<rect x="470" y="203" width="17" height="1" fill="#0000ff"/>
<rect x="478" y="196" width="1" height="4" fill="#0000ff"/>
<rect x="478" y="203" width="1" height="4" fill="#0000ff"/>
<text x="0" y="0" transform="translate(488,204) scale(0.94,1)" class="s9" fill="#000000" stroke="#000000">C5</text>
<text x="0" y="0" transform="translate(487.2,214) scale(0.88,1)" class="r9" fill="#000080" stroke="#000080">25V</text>
<text x="0" y="0" transform="translate(487.2,224) scale(0.88,1)" class="r9" fill="#000080" stroke="#000080">0.1uF</text>
<rect x="478" y="216" width="1" height="94" fill="#000080"/>
<rect x="478" y="309" width="176" height="1" fill="#000080"/>
<rect x="673.5" y="289.5" width="123" height="92" fill="#ffffb0" stroke="#800000" stroke-width="1"/>
<rect x="653" y="309" width="21" height="1" fill="#000000"/>
<text x="664" y="307.2" class="pn" fill="#202020" stroke="#202020" text-anchor="middle">8</text>
<text x="680.5" y="313.1" class="p8" fill="#202020" stroke="#202020">VDD</text>
<rect x="653" y="330" width="21" height="1" fill="#000000"/>
<text x="664" y="328.2" class="pn" fill="#202020" stroke="#202020" text-anchor="middle">1</text>
<text x="680.5" y="334.1" class="p8" fill="#202020" stroke="#202020">S1</text>
<rect x="653" y="340" width="21" height="1" fill="#000000"/>
<text x="664" y="338.2" class="pn" fill="#202020" stroke="#202020" text-anchor="middle">5</text>
<text x="680.5" y="344.1" class="p8" fill="#202020" stroke="#202020">S2</text>
<rect x="653" y="360" width="21" height="1" fill="#000000"/>
<text x="664" y="358.2" class="pn" fill="#202020" stroke="#202020" text-anchor="middle">7</text>
<text x="680.5" y="364.1" class="p8" fill="#202020" stroke="#202020">SEL1</text>
<rect x="666.5" y="359.5" width="4" height="3" rx="0.7" fill="#fff" stroke="#101010" stroke-width="1"/>
<rect x="670.5" y="360" width="2.5" height="2" fill="#101010"/>
<rect x="653" y="371" width="21" height="1" fill="#000000"/>
<text x="664" y="369.2" class="pn" fill="#202020" stroke="#202020" text-anchor="middle">3</text>
<text x="680.5" y="375.1" class="p8" fill="#202020" stroke="#202020">SEL2</text>
<rect x="666.5" y="370.5" width="4" height="3" rx="0.7" fill="#fff" stroke="#101010" stroke-width="1"/>
<rect x="670.5" y="371" width="2.5" height="2" fill="#101010"/>
<rect x="796" y="330" width="22" height="1" fill="#000000"/>
<text x="807" y="328.2" class="pn" fill="#202020" stroke="#202020" text-anchor="middle">2</text>
<text x="789" y="334.1" class="p8" fill="#202020" stroke="#202020" text-anchor="end">D1</text>
<rect x="796" y="340" width="22" height="1" fill="#000000"/>
<text x="807" y="338.2" class="pn" fill="#202020" stroke="#202020" text-anchor="middle">6</text>
<text x="789" y="344.1" class="p8" fill="#202020" stroke="#202020" text-anchor="end">D2</text>
<rect x="796" y="371" width="22" height="1" fill="#000000"/>
<text x="807" y="369.2" class="pn" fill="#202020" stroke="#202020" text-anchor="middle">4</text>
<text x="789" y="375.1" class="p8" fill="#202020" stroke="#202020" text-anchor="end">GND</text>
<text x="0" y="0" transform="translate(673.5,286.5) scale(0.94,1)" class="s9" fill="#000080" stroke="#000080">U1</text>
<text x="0" y="0" transform="translate(672.7,390.2) scale(0.88,1)" class="r9" fill="#000080" stroke="#000080">TMUX4821DDF</text>
<text x="0" y="0" transform="translate(601.2,307.8) scale(0.88,1)" class="r9" fill="#800000" stroke="#800000">VDD</text>
<text x="0" y="0" transform="translate(600.8000000000001,327.8) scale(0.88,1)" class="r9" fill="#800000" stroke="#800000">S1</text>
<text x="0" y="0" transform="translate(600.8000000000001,338) scale(0.88,1)" class="r9" fill="#800000" stroke="#800000">S2</text>
<text x="0" y="0" transform="translate(600.8000000000001,358.5) scale(0.88,1)" class="r9" fill="#800000" stroke="#800000">SEL1</text>
<text x="0" y="0" transform="translate(600.8000000000001,369) scale(0.88,1)" class="r9" fill="#800000" stroke="#800000">SEL2</text>
<circle cx="652.5" cy="330.5" r="2.6" fill="#000080"/>
<rect x="817" y="330" width="267" height="1" fill="#000080"/>
<rect x="1083" y="309" width="1" height="22" fill="#000000"/>
<rect x="817" y="340" width="585" height="1" fill="#000080"/>
<rect x="1401" y="319" width="1" height="22" fill="#000000"/>
<text x="0" y="0" transform="translate(862.2,327.5) scale(0.88,1)" class="r9" fill="#800000" stroke="#800000">D1</text>
<text x="0" y="0" transform="translate(872.2,338) scale(0.88,1)" class="r9" fill="#800000" stroke="#800000">D2</text>
<rect x="817" y="371" width="21" height="1" fill="#000080"/>
<rect x="837" y="371" width="1" height="37" fill="#000080"/>
<rect x="837" y="407" width="1" height="11" fill="#800000"/>
<rect x="827" y="417" width="22" height="1" fill="#800000"/>
<rect x="830" y="420" width="16" height="1" fill="#800000"/>
<rect x="833" y="423" width="10" height="1" fill="#800000"/>
<rect x="836" y="426" width="4" height="1" fill="#800000"/>
<text x="0" y="0" transform="translate(837.5,435.5) scale(0.88,1)" class="r9" fill="#800000" stroke="#800000" text-anchor="middle">GND</text>
<text x="0" y="0" transform="translate(816.7,368.5) scale(0.88,1)" class="r9" fill="#800000" stroke="#800000">GND</text>
<rect x="816.5" y="242.5" width="41" height="21" fill="#ffffb0" stroke="#800000" stroke-width="1"/>
<circle cx="837.5" cy="253.5" r="3.3" fill="none" stroke="#0000ff" stroke-width="1.1"/>
<rect x="840.5" y="254.0" width="6.5" height="1" fill="#000080"/>
<rect x="845.0" y="253.0" width="1" height="1.2" fill="#000080"/>
<rect x="841.0" y="254.8" width="1" height="1.2" fill="#000080" fill-opacity="0.6"/>
<rect x="837" y="257" width="1" height="7" fill="#0000ff"/>
<text x="816.5" y="239.8" class="s8" fill="#000080" stroke="#000080">D1</text>
<rect x="837" y="263" width="1" height="30" fill="#000000"/>
<rect x="837" y="292" width="1" height="12" fill="#0000ff"/>
<polyline points="837.50,303.00 839.90,304.39 835.10,306.90 839.90,309.50 835.10,312.10 839.90,314.42 837.50,316.00" fill="none" stroke="#0000ff" stroke-width="1.2" style="shape-rendering:geometricPrecision"/>
<rect x="837" y="315" width="1" height="16" fill="#0000ff"/>
<circle cx="837.5" cy="330.5" r="2.6" fill="#000080"/>
<text x="816.5" y="293.7" class="rb" fill="#000080" stroke="#000080">RCWCTE</text>
<text x="841.3" y="310.8" class="rr" fill="#000080" stroke="#000080">R_Burden</text>
<rect x="867.5" y="242.5" width="41" height="21" fill="#ffffb0" stroke="#800000" stroke-width="1"/>
<circle cx="888.5" cy="253.5" r="3.3" fill="none" stroke="#0000ff" stroke-width="1.1"/>
<rect x="891.5" y="254.0" width="6.5" height="1" fill="#000080"/>
<rect x="896.0" y="253.0" width="1" height="1.2" fill="#000080"/>
<rect x="892.0" y="254.8" width="1" height="1.2" fill="#000080" fill-opacity="0.6"/>
<rect x="888" y="257" width="1" height="7" fill="#0000ff"/>
<text x="867.5" y="239.8" class="s8" fill="#000080" stroke="#000080">D1</text>
<rect x="888" y="263" width="1" height="30" fill="#000000"/>
<rect x="888" y="292" width="1" height="12" fill="#0000ff"/>
<polyline points="888.50,303.00 890.90,304.39 886.10,306.90 890.90,309.50 886.10,312.10 890.90,314.42 888.50,316.00" fill="none" stroke="#0000ff" stroke-width="1.2" style="shape-rendering:geometricPrecision"/>
<rect x="888" y="315" width="1" height="16" fill="#0000ff"/>
<circle cx="888.5" cy="330.5" r="2.6" fill="#000080"/>
<text x="867.5" y="293.7" class="rb" fill="#000080" stroke="#000080">RCWCTE</text>
<text x="892.3" y="310.8" class="rr" fill="#000080" stroke="#000080">R_Burden</text>
<rect x="908" y="264" width="1" height="23" fill="#ff8040"/>
<rect x="852.5" y="401.5" width="41" height="21" fill="#ffffb0" stroke="#800000" stroke-width="1"/>
<circle cx="873.5" cy="412.5" r="3.3" fill="none" stroke="#0000ff" stroke-width="1.1"/>
<rect x="864.0" y="411.0" width="6.5" height="1" fill="#000080"/>
<rect x="865.0" y="410.0" width="1" height="1.2" fill="#000080"/>
<rect x="869.0" y="411.8" width="1" height="1.2" fill="#000080" fill-opacity="0.6"/>
<rect x="873" y="401" width="1" height="8" fill="#0000ff"/>
<circle cx="873.5" cy="340.5" r="2.6" fill="#000080"/>
<rect x="873" y="340" width="1" height="15" fill="#0000ff"/>
<polyline points="873.50,354.00 875.90,355.39 871.10,357.90 875.90,360.50 871.10,363.10 875.90,365.42 873.50,367.00" fill="none" stroke="#0000ff" stroke-width="1.2" style="shape-rendering:geometricPrecision"/>
<rect x="873" y="367" width="1" height="11" fill="#0000ff"/>
<rect x="873" y="377" width="1" height="25" fill="#000000"/>
<text x="877.0" y="362" class="rr" fill="#000080" stroke="#000080">R_Burden</text>
<text x="852.5" y="430.5" class="rb" fill="#000080" stroke="#000080">D2</text>
<text x="852.5" y="440.8" class="rb" fill="#000080" stroke="#000080">RCWCTE</text>
<rect x="919.5" y="401.5" width="41" height="21" fill="#ffffb0" stroke="#800000" stroke-width="1"/>
<circle cx="939.5" cy="412.5" r="3.3" fill="none" stroke="#0000ff" stroke-width="1.1"/>
<rect x="930.0" y="411.0" width="6.5" height="1" fill="#000080"/>
<rect x="931.0" y="410.0" width="1" height="1.2" fill="#000080"/>
<rect x="935.0" y="411.8" width="1" height="1.2" fill="#000080" fill-opacity="0.6"/>
<rect x="939" y="401" width="1" height="8" fill="#0000ff"/>
<circle cx="939.5" cy="340.5" r="2.6" fill="#000080"/>
<rect x="939" y="340" width="1" height="15" fill="#0000ff"/>
<polyline points="939.50,354.00 941.90,355.39 937.10,357.90 941.90,360.50 937.10,363.10 941.90,365.42 939.50,367.00" fill="none" stroke="#0000ff" stroke-width="1.2" style="shape-rendering:geometricPrecision"/>
<rect x="939" y="367" width="1" height="11" fill="#0000ff"/>
<rect x="939" y="377" width="1" height="25" fill="#000000"/>
<text x="943.0" y="362" class="rr" fill="#000080" stroke="#000080">R_Burden</text>
<text x="919.5" y="430.5" class="rb" fill="#000080" stroke="#000080">D2</text>
<text x="919.5" y="440.8" class="rb" fill="#000080" stroke="#000080">RCWCTE</text>
<rect x="406.5" y="289.5" width="41" height="20" fill="#ffffb0" stroke="#800000" stroke-width="1"/>
<circle cx="426.5" cy="299.5" r="3.3" fill="none" stroke="#0000ff" stroke-width="1.1"/>
<rect x="429.5" y="300.0" width="6.5" height="1" fill="#000080"/>
<rect x="434.0" y="299.0" width="1" height="1.2" fill="#000080"/>
<rect x="430.0" y="300.8" width="1" height="1.2" fill="#000080" fill-opacity="0.6"/>
<rect x="426" y="303" width="1" height="7" fill="#0000ff"/>
<rect x="426" y="309" width="1" height="22" fill="#000000"/>
<circle cx="426.5" cy="330.5" r="2.6" fill="#000080"/>
<text x="406.5" y="286.3" class="rb" fill="#000080" stroke="#000080">S1</text>
<text x="406.5" y="341" class="rb" fill="#000080" stroke="#000080">RCWCTE</text>
<rect x="406.5" y="360.5" width="41" height="21" fill="#ffffb0" stroke="#800000" stroke-width="1"/>
<circle cx="426.5" cy="371.5" r="3.3" fill="none" stroke="#0000ff" stroke-width="1.1"/>
<rect x="417.0" y="370.0" width="6.5" height="1" fill="#000080"/>
<rect x="418.0" y="369.0" width="1" height="1.2" fill="#000080"/>
<rect x="422.0" y="370.8" width="1" height="1.2" fill="#000080" fill-opacity="0.6"/>
<rect x="426" y="360" width="1" height="8" fill="#0000ff"/>
<rect x="426" y="340" width="1" height="21" fill="#000000"/>
<circle cx="426.5" cy="340.5" r="2.6" fill="#000080"/>
<text x="406.5" y="390" class="rb" fill="#000080" stroke="#000080">S2</text>
<text x="406.5" y="400" class="rb" fill="#000080" stroke="#000080">RCWCTE</text>
<rect x="1062.5" y="289.5" width="41" height="20" fill="#ffffb0" stroke="#800000" stroke-width="1"/>
<circle cx="1083.5" cy="299.5" r="3.3" fill="none" stroke="#0000ff" stroke-width="1.1"/>
<rect x="1086.5" y="300.0" width="6.5" height="1" fill="#000080"/>
<rect x="1091.0" y="299.0" width="1" height="1.2" fill="#000080"/>
<rect x="1087.0" y="300.8" width="1" height="1.2" fill="#000080" fill-opacity="0.6"/>
<rect x="1083" y="303" width="1" height="7" fill="#0000ff"/>
<text x="1062.5" y="286.6" class="rb" fill="#000080" stroke="#000080">D1</text>
<text x="1062.5" y="340.5" class="rb" fill="#000080" stroke="#000080">RCWCTE</text>
<rect x="1380.5" y="299.5" width="41" height="20" fill="#ffffb0" stroke="#800000" stroke-width="1"/>
<circle cx="1401.5" cy="309.5" r="3.3" fill="none" stroke="#0000ff" stroke-width="1.1"/>
<rect x="1404.5" y="310.0" width="6.5" height="1" fill="#000080"/>
<rect x="1409.0" y="309.0" width="1" height="1.2" fill="#000080"/>
<rect x="1405.0" y="310.8" width="1" height="1.2" fill="#000080" fill-opacity="0.6"/>
<rect x="1401" y="313" width="1" height="7" fill="#0000ff"/>
<text x="1380.5" y="297.2" class="rb" fill="#000080" stroke="#000080">D2</text>
<text x="1380.5" y="350.8" class="rb" fill="#000080" stroke="#000080">RCWCTE</text>
<circle cx="980.5" cy="330.5" r="2.6" fill="#000080"/>
<circle cx="1016.5" cy="330.5" r="2.6" fill="#000080"/>
<circle cx="1052.5" cy="330.5" r="2.6" fill="#000080"/>
<rect x="980" y="330" width="1" height="11" fill="#000000"/>
<rect x="972" y="343" width="17" height="1" fill="#0000ff"/>
<rect x="972" y="347" width="17" height="1" fill="#0000ff"/>
<rect x="980" y="340" width="1" height="4" fill="#0000ff"/>
<rect x="980" y="347" width="1" height="4" fill="#0000ff"/>
<text x="0" y="0" transform="translate(990,348) scale(0.94,1)" class="s9" fill="#000000" stroke="#000000">C3</text>
<text x="0" y="0" transform="translate(989.2,358) scale(0.88,1)" class="r9" fill="#000080" stroke="#000080">16V</text>
<text x="0" y="0" transform="translate(989.2,368) scale(0.88,1)" class="r9" fill="#000080" stroke="#000080">1uF</text>
<rect x="980" y="350" width="1" height="12" fill="#000000"/>
<rect x="980" y="361" width="1" height="27" fill="#000080"/>
<rect x="980" y="387" width="1" height="10" fill="#800000"/>
<rect x="970" y="396" width="22" height="1" fill="#800000"/>
<rect x="973" y="399" width="16" height="1" fill="#800000"/>
<rect x="976" y="402" width="10" height="1" fill="#800000"/>
<rect x="979" y="405" width="4" height="1" fill="#800000"/>
<text x="0" y="0" transform="translate(980.5,414.5) scale(0.88,1)" class="r9" fill="#800000" stroke="#800000" text-anchor="middle">GND</text>
<rect x="1016" y="330" width="1" height="11" fill="#000000"/>
<rect x="1016" y="340" width="1" height="4" fill="#0000ff"/>
<polyline points="1016.50,343.00 1018.90,344.55 1014.10,347.35 1018.90,350.25 1014.10,353.15 1018.90,355.74 1016.50,357.50" fill="none" stroke="#0000ff" stroke-width="1.2" style="shape-rendering:geometricPrecision"/>
<rect x="1016" y="357" width="1" height="5" fill="#0000ff"/>
<rect x="1016" y="361" width="1" height="11" fill="#000000"/>
<rect x="1016" y="371" width="1" height="17" fill="#000080"/>
<rect x="1016" y="387" width="1" height="10" fill="#800000"/>
<rect x="1006" y="396" width="22" height="1" fill="#800000"/>
<rect x="1009" y="399" width="16" height="1" fill="#800000"/>
<rect x="1012" y="402" width="10" height="1" fill="#800000"/>
<rect x="1015" y="405" width="4" height="1" fill="#800000"/>
<text x="0" y="0" transform="translate(1016.5,414.5) scale(0.88,1)" class="r9" fill="#800000" stroke="#800000" text-anchor="middle">GND</text>
<text x="0" y="0" transform="translate(1020,348) scale(0.94,1)" class="s9" fill="#000000" stroke="#000000">R3</text>
<text x="0" y="0" transform="translate(1019.2,358) scale(0.88,1)" class="r9" fill="#000080" stroke="#000080">920</text>
<rect x="1052" y="330" width="1" height="11" fill="#000000"/>
<rect x="1052" y="340" width="1" height="4" fill="#0000ff"/>
<polyline points="1052.50,343.00 1054.90,344.55 1050.10,347.35 1054.90,350.25 1050.10,353.15 1054.90,355.74 1052.50,357.50" fill="none" stroke="#0000ff" stroke-width="1.2" style="shape-rendering:geometricPrecision"/>
<rect x="1052" y="357" width="1" height="5" fill="#0000ff"/>
<rect x="1052" y="361" width="1" height="11" fill="#000000"/>
<rect x="1052" y="371" width="1" height="17" fill="#000080"/>
<rect x="1052" y="387" width="1" height="10" fill="#800000"/>
<rect x="1042" y="396" width="22" height="1" fill="#800000"/>
<rect x="1045" y="399" width="16" height="1" fill="#800000"/>
<rect x="1048" y="402" width="10" height="1" fill="#800000"/>
<rect x="1051" y="405" width="4" height="1" fill="#800000"/>
<text x="0" y="0" transform="translate(1052.5,414.5) scale(0.88,1)" class="r9" fill="#800000" stroke="#800000" text-anchor="middle">GND</text>
<text x="0" y="0" transform="translate(1056,348) scale(0.94,1)" class="s9" fill="#000000" stroke="#000000">R5</text>
<text x="0" y="0" transform="translate(1055.2,358) scale(0.88,1)" class="r9" fill="#000080" stroke="#000080">5.00k</text>
<rect x="1083" y="371" width="1" height="17" fill="#000080"/>
<rect x="1083" y="387" width="1" height="10" fill="#800000"/>
<rect x="1073" y="396" width="22" height="1" fill="#800000"/>
<rect x="1076" y="399" width="16" height="1" fill="#800000"/>
<rect x="1079" y="402" width="10" height="1" fill="#800000"/>
<rect x="1082" y="405" width="4" height="1" fill="#800000"/>
<text x="0" y="0" transform="translate(1083.5,414.5) scale(0.88,1)" class="r9" fill="#800000" stroke="#800000" text-anchor="middle">GND</text>
<circle cx="1298.5" cy="340.5" r="2.6" fill="#000080"/>
<circle cx="1334.5" cy="340.5" r="2.6" fill="#000080"/>
<circle cx="1370.5" cy="340.5" r="2.6" fill="#000080"/>
<rect x="1298" y="340" width="1" height="11" fill="#000000"/>
<rect x="1290" y="353" width="17" height="1" fill="#0000ff"/>
<rect x="1290" y="357" width="17" height="1" fill="#0000ff"/>
<rect x="1298" y="350" width="1" height="4" fill="#0000ff"/>
<rect x="1298" y="357" width="1" height="4" fill="#0000ff"/>
<text x="0" y="0" transform="translate(1308,358) scale(0.94,1)" class="s9" fill="#000000" stroke="#000000">C4</text>
<text x="0" y="0" transform="translate(1307.2,368) scale(0.88,1)" class="r9" fill="#000080" stroke="#000080">16V</text>
<text x="0" y="0" transform="translate(1307.2,378) scale(0.88,1)" class="r9" fill="#000080" stroke="#000080">1uF</text>
<rect x="1298" y="360" width="1" height="12" fill="#000000"/>
<rect x="1298" y="371" width="1" height="27" fill="#000080"/>
<rect x="1298" y="397" width="1" height="10" fill="#800000"/>
<rect x="1288" y="406" width="22" height="1" fill="#800000"/>
<rect x="1291" y="409" width="16" height="1" fill="#800000"/>
<rect x="1294" y="412" width="10" height="1" fill="#800000"/>
<rect x="1297" y="415" width="4" height="1" fill="#800000"/>
<text x="0" y="0" transform="translate(1298.5,424.5) scale(0.88,1)" class="r9" fill="#800000" stroke="#800000" text-anchor="middle">GND</text>
<rect x="1334" y="340" width="1" height="11" fill="#000000"/>
<rect x="1334" y="350" width="1" height="5" fill="#0000ff"/>
<polyline points="1334.50,354.00 1336.90,355.45 1332.10,358.05 1336.90,360.75 1332.10,363.45 1336.90,365.86 1334.50,367.50" fill="none" stroke="#0000ff" stroke-width="1.2" style="shape-rendering:geometricPrecision"/>
<rect x="1334" y="367" width="1" height="5" fill="#0000ff"/>
<rect x="1334" y="371" width="1" height="11" fill="#000000"/>
<rect x="1334" y="381" width="1" height="17" fill="#000080"/>
<rect x="1334" y="397" width="1" height="10" fill="#800000"/>
<rect x="1324" y="406" width="22" height="1" fill="#800000"/>
<rect x="1327" y="409" width="16" height="1" fill="#800000"/>
<rect x="1330" y="412" width="10" height="1" fill="#800000"/>
<rect x="1333" y="415" width="4" height="1" fill="#800000"/>
<text x="0" y="0" transform="translate(1334.5,424.5) scale(0.88,1)" class="r9" fill="#800000" stroke="#800000" text-anchor="middle">GND</text>
<text x="0" y="0" transform="translate(1337.5,358) scale(0.94,1)" class="s9" fill="#000000" stroke="#000000">R4</text>
<text x="0" y="0" transform="translate(1336.7,368) scale(0.88,1)" class="r9" fill="#000080" stroke="#000080">920</text>
<rect x="1370" y="340" width="1" height="11" fill="#000000"/>
<rect x="1370" y="350" width="1" height="5" fill="#0000ff"/>
<polyline points="1370.50,354.00 1372.90,355.45 1368.10,358.05 1372.90,360.75 1368.10,363.45 1372.90,365.86 1370.50,367.50" fill="none" stroke="#0000ff" stroke-width="1.2" style="shape-rendering:geometricPrecision"/>
<rect x="1370" y="367" width="1" height="5" fill="#0000ff"/>
<rect x="1370" y="371" width="1" height="11" fill="#000000"/>
<rect x="1370" y="381" width="1" height="17" fill="#000080"/>
<rect x="1370" y="397" width="1" height="10" fill="#800000"/>
<rect x="1360" y="406" width="22" height="1" fill="#800000"/>
<rect x="1363" y="409" width="16" height="1" fill="#800000"/>
<rect x="1366" y="412" width="10" height="1" fill="#800000"/>
<rect x="1369" y="415" width="4" height="1" fill="#800000"/>
<text x="0" y="0" transform="translate(1370.5,424.5) scale(0.88,1)" class="r9" fill="#800000" stroke="#800000" text-anchor="middle">GND</text>
<text x="0" y="0" transform="translate(1373.5,358) scale(0.94,1)" class="s9" fill="#000000" stroke="#000000">R6</text>
<text x="0" y="0" transform="translate(1372.7,368) scale(0.88,1)" class="r9" fill="#000080" stroke="#000080">5.00k</text>
<rect x="1401" y="380" width="1" height="18" fill="#000080"/>
<rect x="1401" y="397" width="1" height="10" fill="#800000"/>
<rect x="1391" y="406" width="22" height="1" fill="#800000"/>
<rect x="1394" y="409" width="16" height="1" fill="#800000"/>
<rect x="1397" y="412" width="10" height="1" fill="#800000"/>
<rect x="1400" y="415" width="4" height="1" fill="#800000"/>
<text x="0" y="0" transform="translate(1401.5,424.5) scale(0.88,1)" class="r9" fill="#800000" stroke="#800000" text-anchor="middle">GND</text>
<rect x="180.5" y="412.5" width="123" height="92" fill="#ffffb0" stroke="#800000" stroke-width="1"/>
<rect x="160" y="432" width="21" height="1" fill="#000000"/>
<text x="171" y="430.2" class="pn" fill="#202020" stroke="#202020" text-anchor="middle">8</text>
<text x="187.5" y="436.1" class="p8" fill="#202020" stroke="#202020">VDD</text>
<rect x="160" y="453" width="21" height="1" fill="#000000"/>
<text x="171" y="451.2" class="pn" fill="#202020" stroke="#202020" text-anchor="middle">1</text>
<text x="187.5" y="457.1" class="p8" fill="#202020" stroke="#202020">S1</text>
<rect x="160" y="463" width="21" height="1" fill="#000000"/>
<text x="171" y="461.2" class="pn" fill="#202020" stroke="#202020" text-anchor="middle">5</text>
<text x="187.5" y="467.1" class="p8" fill="#202020" stroke="#202020">S2</text>
<rect x="160" y="484" width="21" height="1" fill="#000000"/>
<text x="171" y="482.2" class="pn" fill="#202020" stroke="#202020" text-anchor="middle">7</text>
<text x="187.5" y="488.1" class="p8" fill="#202020" stroke="#202020">SEL1</text>
<rect x="173.5" y="483.5" width="4" height="3" rx="0.7" fill="#fff" stroke="#101010" stroke-width="1"/>
<rect x="177.5" y="484" width="2.5" height="2" fill="#101010"/>
<rect x="160" y="494" width="21" height="1" fill="#000000"/>
<text x="171" y="492.2" class="pn" fill="#202020" stroke="#202020" text-anchor="middle">3</text>
<text x="187.5" y="498.1" class="p8" fill="#202020" stroke="#202020">SEL2</text>
<rect x="173.5" y="493.5" width="4" height="3" rx="0.7" fill="#fff" stroke="#101010" stroke-width="1"/>
<rect x="177.5" y="494" width="2.5" height="2" fill="#101010"/>
<rect x="303" y="453" width="22" height="1" fill="#000000"/>
<text x="314" y="451.2" class="pn" fill="#202020" stroke="#202020" text-anchor="middle">2</text>
<text x="296" y="457.1" class="p8" fill="#202020" stroke="#202020" text-anchor="end">D1</text>
<rect x="303" y="463" width="22" height="1" fill="#000000"/>
<text x="314" y="461.2" class="pn" fill="#202020" stroke="#202020" text-anchor="middle">6</text>
<text x="296" y="467.1" class="p8" fill="#202020" stroke="#202020" text-anchor="end">D2</text>
<rect x="303" y="484" width="22" height="1" fill="#000000"/>
<text x="314" y="482.2" class="pn" fill="#202020" stroke="#202020" text-anchor="middle">9</text>
<text x="296" y="488.1" class="p8" fill="#202020" stroke="#202020" text-anchor="end">EP</text>
<rect x="303" y="494" width="22" height="1" fill="#000000"/>
<text x="314" y="492.2" class="pn" fill="#202020" stroke="#202020" text-anchor="middle">4</text>
<text x="296" y="498.1" class="p8" fill="#202020" stroke="#202020" text-anchor="end">GND</text>
<text x="0" y="0" transform="translate(180.5,409.5) scale(0.94,1)" class="s9" fill="#000080" stroke="#000080">U2</text>
<text x="0" y="0" transform="translate(179.7,513.2) scale(0.88,1)" class="r9" fill="#000080" stroke="#000080">TMUX4821DSG</text>
<rect x="124" y="432" width="37" height="1" fill="#000080"/>
<text x="0" y="0" transform="translate(124.5,430.6) scale(0.88,1)" class="r9" fill="#800000" stroke="#800000">VDD</text>
<rect x="124" y="453" width="37" height="1" fill="#000080"/>
<text x="0" y="0" transform="translate(124.5,451.6) scale(0.88,1)" class="r9" fill="#800000" stroke="#800000">S1</text>
<rect x="124" y="463" width="37" height="1" fill="#000080"/>
<text x="0" y="0" transform="translate(124.5,461.6) scale(0.88,1)" class="r9" fill="#800000" stroke="#800000">S2</text>
<rect x="124" y="484" width="37" height="1" fill="#000080"/>
<text x="0" y="0" transform="translate(124.5,482.6) scale(0.88,1)" class="r9" fill="#800000" stroke="#800000">SEL1</text>
<rect x="124" y="494" width="37" height="1" fill="#000080"/>
<text x="0" y="0" transform="translate(124.5,492.6) scale(0.88,1)" class="r9" fill="#800000" stroke="#800000">SEL2</text>
<rect x="324" y="484" width="1" height="11" fill="#000000"/>
<circle cx="324.5" cy="494.5" r="2.6" fill="#000080"/>
<rect x="324" y="453" width="27" height="1" fill="#000080"/>
<text x="0" y="0" transform="translate(348.7,451.4) scale(0.88,1)" class="r9" fill="#800000" stroke="#800000">D1</text>
<rect x="324" y="463" width="27" height="1" fill="#000080"/>
<text x="0" y="0" transform="translate(348.7,461.4) scale(0.88,1)" class="r9" fill="#800000" stroke="#800000">D2</text>
<rect x="324" y="494" width="27" height="1" fill="#000080"/>
<text x="0" y="0" transform="translate(348.7,492.4) scale(0.88,1)" class="r9" fill="#800000" stroke="#800000">GND</text>
<rect x="478" y="360" width="176" height="1" fill="#000080"/>
<rect x="488" y="447" width="1" height="22" fill="#000000"/>
<text x="0" y="0" class="n7" fill="#202020" stroke="#202020" text-anchor="middle" transform="translate(486.6,458) rotate(-90)">1</text>
<rect x="478" y="447" width="1" height="22" fill="#000000"/>
<text x="0" y="0" class="n7" fill="#202020" stroke="#202020" text-anchor="middle" transform="translate(476.6,458) rotate(-90)">2</text>
<rect x="467" y="447" width="1" height="22" fill="#000000"/>
<text x="0" y="0" class="n7" fill="#202020" stroke="#202020" text-anchor="middle" transform="translate(465.6,458) rotate(-90)">3</text>
<rect x="457.5" y="468.5" width="41" height="20" fill="none" stroke="#0000ff" stroke-width="1"/>
<rect x="488" y="468" width="1" height="11" fill="#0000ff"/>
<rect x="478" y="468" width="1" height="11" fill="#0000ff"/>
<rect x="467" y="468" width="1" height="11" fill="#0000ff"/>
<rect x="485" y="475" width="7" height="7" fill="#0000ff"/>
<circle cx="478.5" cy="478.5" r="3.6" fill="#0000ff"/>
<circle cx="467.5" cy="478.5" r="3.6" fill="#0000ff"/>
<text x="0" y="0" transform="translate(457.5,495.8) scale(0.94,1)" class="s9" fill="#000000" stroke="#000000">J6</text>
<text x="0" y="0" transform="translate(457.5,506.2) scale(0.94,1)" class="s9" fill="#000000" stroke="#000000">22284030</text>
<rect x="478" y="360" width="1" height="88" fill="#000080"/>
<circle cx="478.5" cy="412.5" r="2.6" fill="#000080"/>
<circle cx="443.5" cy="412.5" r="4.2" fill="#ffe400" stroke="#303000" stroke-width="1"/>
<rect x="448" y="412" width="13" height="1" fill="#000000"/>
<rect x="460" y="412" width="19" height="1" fill="#000080"/>
<text x="0" y="0" transform="translate(438.8,406) scale(0.88,1)" class="r9" fill="#000080" stroke="#000080">SEL1</text>
<text x="0" y="0" transform="translate(439.6,423.8) scale(0.94,1)" class="s9" fill="#000000" stroke="#000000">5009</text>
<rect x="488" y="432" width="1" height="16" fill="#000080"/>
<rect x="488" y="432" width="37" height="1" fill="#000080"/>
<rect x="524" y="422" width="1" height="11" fill="#800000"/>
<rect x="519" y="422" width="11" height="1" fill="#800000"/>
<text x="0" y="0" transform="translate(524.5,419.7) scale(0.88,1)" class="r9" fill="#800000" stroke="#800000" text-anchor="middle">VDD</text>
<rect x="467" y="443" width="1" height="5" fill="#000080"/>
<rect x="432" y="443" width="36" height="1" fill="#000080"/>
<rect x="432" y="443" width="1" height="11" fill="#000080"/>
<rect x="432" y="453" width="1" height="11" fill="#800000"/>
<rect x="422" y="463" width="22" height="1" fill="#800000"/>
<rect x="425" y="466" width="16" height="1" fill="#800000"/>
<rect x="428" y="469" width="10" height="1" fill="#800000"/>
<rect x="431" y="472" width="4" height="1" fill="#800000"/>
<text x="0" y="0" transform="translate(432.5,481.5) scale(0.88,1)" class="r9" fill="#800000" stroke="#800000" text-anchor="middle">GND</text>
<rect x="591" y="371" width="63" height="1" fill="#000080"/>
<rect x="601" y="494" width="1" height="21" fill="#000000"/>
<text x="0" y="0" class="n7" fill="#202020" stroke="#202020" text-anchor="middle" transform="translate(599.6,504) rotate(-90)">1</text>
<rect x="591" y="494" width="1" height="21" fill="#000000"/>
<text x="0" y="0" class="n7" fill="#202020" stroke="#202020" text-anchor="middle" transform="translate(589.6,504) rotate(-90)">2</text>
<rect x="580" y="494" width="1" height="21" fill="#000000"/>
<text x="0" y="0" class="n7" fill="#202020" stroke="#202020" text-anchor="middle" transform="translate(578.6,504) rotate(-90)">3</text>
<rect x="570.5" y="514.5" width="41" height="21" fill="none" stroke="#0000ff" stroke-width="1"/>
<rect x="601" y="514" width="1" height="11" fill="#0000ff"/>
<rect x="591" y="514" width="1" height="11" fill="#0000ff"/>
<rect x="580" y="514" width="1" height="11" fill="#0000ff"/>
<rect x="598" y="521" width="7" height="7" fill="#0000ff"/>
<circle cx="591.5" cy="524.5" r="3.6" fill="#0000ff"/>
<circle cx="580.5" cy="524.5" r="3.6" fill="#0000ff"/>
<text x="0" y="0" transform="translate(570.5,542.8) scale(0.94,1)" class="s9" fill="#000000" stroke="#000000">J7</text>
<text x="0" y="0" transform="translate(570.5,553.2) scale(0.94,1)" class="s9" fill="#000000" stroke="#000000">22284030</text>
<rect x="591" y="371" width="1" height="124" fill="#000080"/>
<circle cx="591.5" cy="463.5" r="2.6" fill="#000080"/>
<circle cx="556" cy="463.5" r="4.2" fill="#ffe400" stroke="#303000" stroke-width="1"/>
<rect x="560" y="463" width="13" height="1" fill="#000000"/>
<rect x="572" y="463" width="20" height="1" fill="#000080"/>
<text x="0" y="0" transform="translate(551.2,457) scale(0.88,1)" class="r9" fill="#000080" stroke="#000080">SEL2</text>
<text x="0" y="0" transform="translate(552,475.3) scale(0.94,1)" class="s9" fill="#000000" stroke="#000000">5009</text>
<rect x="601" y="478" width="1" height="17" fill="#000080"/>
<rect x="601" y="478" width="37" height="1" fill="#000080"/>
<rect x="637" y="469" width="1" height="10" fill="#800000"/>
<rect x="632" y="469" width="11" height="1" fill="#800000"/>
<text x="0" y="0" transform="translate(637.5,466.7) scale(0.88,1)" class="r9" fill="#800000" stroke="#800000" text-anchor="middle">VDD</text>
<rect x="580" y="488" width="1" height="7" fill="#000080"/>
<rect x="544" y="488" width="37" height="1" fill="#000080"/>
<rect x="544" y="488" width="1" height="12" fill="#000080"/>
<rect x="544" y="499" width="1" height="11" fill="#800000"/>
<rect x="534" y="509" width="22" height="1" fill="#800000"/>
<rect x="537" y="512" width="16" height="1" fill="#800000"/>
<rect x="540" y="515" width="10" height="1" fill="#800000"/>
<rect x="543" y="518" width="4" height="1" fill="#800000"/>
<text x="0" y="0" transform="translate(544.5,527.5) scale(0.88,1)" class="r9" fill="#800000" stroke="#800000" text-anchor="middle">GND</text>
<rect x="755" y="514" width="329" height="1" fill="#000080"/>
<circle cx="755.5" cy="500" r="4.4" fill="#000000"/>
<rect x="755" y="500" width="1" height="15" fill="#000000"/>
<text x="0" y="0" transform="translate(750.2,493.8) scale(0.88,1)" class="r9" fill="#000080" stroke="#000080">GND</text>
<text x="0" y="0" transform="translate(751,524.8) scale(0.94,1)" class="s9" fill="#000000" stroke="#000000">5006</text>
<circle cx="806.5" cy="500" r="4.4" fill="#000000"/>
<rect x="806" y="500" width="1" height="15" fill="#000000"/>
<circle cx="806.5" cy="514.5" r="2.6" fill="#000080"/>
<text x="0" y="0" transform="translate(801.2,493.8) scale(0.88,1)" class="r9" fill="#000080" stroke="#000080">GND</text>
<text x="0" y="0" transform="translate(802,524.8) scale(0.94,1)" class="s9" fill="#000000" stroke="#000000">5006</text>
<circle cx="857.5" cy="500" r="4.4" fill="#000000"/>
<rect x="857" y="500" width="1" height="15" fill="#000000"/>
<circle cx="857.5" cy="514.5" r="2.6" fill="#000080"/>
<text x="0" y="0" transform="translate(852.2,493.8) scale(0.88,1)" class="r9" fill="#000080" stroke="#000080">GND</text>
<text x="0" y="0" transform="translate(853,524.8) scale(0.94,1)" class="s9" fill="#000000" stroke="#000000">5006</text>
<circle cx="903.5" cy="500" r="4.4" fill="#000000"/>
<rect x="903" y="500" width="1" height="15" fill="#000000"/>
<circle cx="903.5" cy="514.5" r="2.6" fill="#000080"/>
<text x="0" y="0" transform="translate(898.2,493.8) scale(0.88,1)" class="r9" fill="#000080" stroke="#000080">GND</text>
<text x="0" y="0" transform="translate(899,524.8) scale(0.94,1)" class="s9" fill="#000000" stroke="#000000">5006</text>
<circle cx="955.5" cy="500" r="4.4" fill="#000000"/>
<rect x="955" y="500" width="1" height="15" fill="#000000"/>
<circle cx="955.5" cy="514.5" r="2.6" fill="#000080"/>
<text x="0" y="0" transform="translate(950.2,493.8) scale(0.88,1)" class="r9" fill="#000080" stroke="#000080">GND</text>
<text x="0" y="0" transform="translate(951,524.8) scale(0.94,1)" class="s9" fill="#000000" stroke="#000000">5006</text>
<circle cx="1001.5" cy="500" r="4.4" fill="#000000"/>
<rect x="1001" y="500" width="1" height="15" fill="#000000"/>
<circle cx="1001.5" cy="514.5" r="2.6" fill="#000080"/>
<text x="0" y="0" transform="translate(996.2,493.8) scale(0.88,1)" class="r9" fill="#000080" stroke="#000080">GND</text>
<text x="0" y="0" transform="translate(997,524.8) scale(0.94,1)" class="s9" fill="#000000" stroke="#000000">5006</text>
<circle cx="1042.5" cy="500" r="4.4" fill="#000000"/>
<rect x="1042" y="500" width="1" height="15" fill="#000000"/>
<circle cx="1042.5" cy="514.5" r="2.6" fill="#000080"/>
<text x="0" y="0" transform="translate(1037.2,493.8) scale(0.88,1)" class="r9" fill="#000080" stroke="#000080">GND</text>
<text x="0" y="0" transform="translate(1038,524.8) scale(0.94,1)" class="s9" fill="#000000" stroke="#000000">5006</text>
<circle cx="1083.5" cy="500" r="4.4" fill="#000000"/>
<rect x="1083" y="500" width="1" height="15" fill="#000000"/>
<text x="0" y="0" transform="translate(1078.2,493.8) scale(0.88,1)" class="r9" fill="#000080" stroke="#000080">GND</text>
<text x="0" y="0" transform="translate(1079,524.8) scale(0.94,1)" class="s9" fill="#000000" stroke="#000000">5006</text>
<circle cx="929.5" cy="514.5" r="2.6" fill="#000080"/>
<rect x="929" y="514" width="1" height="17" fill="#000080"/>
<rect x="929" y="530" width="1" height="11" fill="#800000"/>
<rect x="919" y="540" width="22" height="1" fill="#800000"/>
<rect x="922" y="543" width="16" height="1" fill="#800000"/>
<rect x="925" y="546" width="10" height="1" fill="#800000"/>
<rect x="928" y="549" width="4" height="1" fill="#800000"/>
<text x="0" y="0" transform="translate(929.5,558.5) scale(0.88,1)" class="r9" fill="#800000" stroke="#800000" text-anchor="middle">GND</text>
</svg>
</body></html>
